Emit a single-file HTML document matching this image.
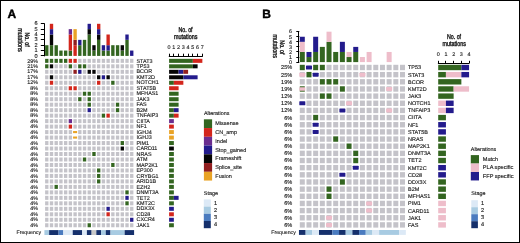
<!DOCTYPE html>
<html><head><meta charset="utf-8"><title>Oncoprint</title><style>html,body{margin:0;padding:0;background:#fff;width:520px;height:243px;overflow:hidden}svg{display:block;will-change:transform;text-rendering:geometricPrecision;font-family:"Liberation Sans",sans-serif}</style></head><body>
<svg width="520" height="243" viewBox="0 0 520 243" font-family="Liberation Sans, sans-serif"><style>text{stroke:#1a1a1a;stroke-width:0.13px}</style><rect width="520" height="243" fill="#fff"/><text x="7.50" y="17.90" font-size="12.0" text-anchor="start" font-weight="bold" fill="#000" style="stroke:#000;stroke-width:0.4px">A</text>
<text transform="translate(18.1,39.9) rotate(90) scale(1,1.3)" style="stroke-width:0.28px" font-size="5.4" text-anchor="middle" fill="#1a1a1a">mutations</text>
<text transform="translate(24.5,39.6) rotate(90) scale(1,1.3)" style="stroke-width:0.28px" font-size="5.3" text-anchor="middle" fill="#1a1a1a">No. of</text>
<line x1="44.50" y1="23.40" x2="44.50" y2="56.30" stroke="#000" stroke-width="1.0"/>
<line x1="40.80" y1="55.50" x2="44.60" y2="55.50" stroke="#000" stroke-width="1.0"/>
<text x="37.60" y="57.50" font-size="5.6" text-anchor="end" fill="#1a1a1a">0</text>
<line x1="40.80" y1="50.50" x2="44.60" y2="50.50" stroke="#000" stroke-width="1.0"/>
<text x="37.60" y="52.15" font-size="5.6" text-anchor="end" fill="#1a1a1a">1</text>
<line x1="40.80" y1="45.50" x2="44.60" y2="45.50" stroke="#000" stroke-width="1.0"/>
<text x="37.60" y="46.80" font-size="5.6" text-anchor="end" fill="#1a1a1a">2</text>
<line x1="40.80" y1="39.50" x2="44.60" y2="39.50" stroke="#000" stroke-width="1.0"/>
<text x="37.60" y="41.45" font-size="5.6" text-anchor="end" fill="#1a1a1a">3</text>
<line x1="40.80" y1="34.50" x2="44.60" y2="34.50" stroke="#000" stroke-width="1.0"/>
<text x="37.60" y="36.10" font-size="5.6" text-anchor="end" fill="#1a1a1a">4</text>
<line x1="40.80" y1="29.50" x2="44.60" y2="29.50" stroke="#000" stroke-width="1.0"/>
<text x="37.60" y="30.75" font-size="5.6" text-anchor="end" fill="#1a1a1a">5</text>
<line x1="40.80" y1="23.50" x2="44.60" y2="23.50" stroke="#000" stroke-width="1.0"/>
<text x="37.60" y="25.40" font-size="5.6" text-anchor="end" fill="#1a1a1a">6</text>
<rect x="45.10" y="45.20" width="3.35" height="10.70" fill="#336520"/>
<rect x="49.82" y="45.20" width="3.35" height="10.70" fill="#336520"/>
<rect x="49.82" y="34.50" width="3.35" height="10.70" fill="#050505"/>
<rect x="49.82" y="29.15" width="3.35" height="5.35" fill="#231b8c"/>
<rect x="49.82" y="23.80" width="3.35" height="5.35" fill="#d3261c"/>
<rect x="54.54" y="45.20" width="3.35" height="10.70" fill="#336520"/>
<rect x="59.26" y="50.55" width="3.35" height="5.35" fill="#336520"/>
<rect x="63.98" y="50.55" width="3.35" height="5.35" fill="#336520"/>
<rect x="68.70" y="50.55" width="3.35" height="5.35" fill="#336520"/>
<rect x="68.70" y="34.50" width="3.35" height="16.05" fill="#d3261c"/>
<rect x="68.70" y="29.15" width="3.35" height="5.35" fill="#6a2d8f"/>
<rect x="73.42" y="45.20" width="3.35" height="10.70" fill="#d3261c"/>
<rect x="73.42" y="39.85" width="3.35" height="5.35" fill="#911e1f"/>
<rect x="73.42" y="29.15" width="3.35" height="10.70" fill="#e9a325"/>
<rect x="78.14" y="45.20" width="3.35" height="10.70" fill="#336520"/>
<rect x="78.14" y="39.85" width="3.35" height="5.35" fill="#231b8c"/>
<rect x="82.86" y="39.85" width="3.35" height="16.05" fill="#336520"/>
<rect x="87.58" y="34.50" width="3.35" height="21.40" fill="#336520"/>
<rect x="87.58" y="29.15" width="3.35" height="5.35" fill="#050505"/>
<rect x="87.58" y="23.80" width="3.35" height="5.35" fill="#231b8c"/>
<rect x="92.30" y="50.55" width="3.35" height="5.35" fill="#336520"/>
<rect x="92.30" y="45.20" width="3.35" height="5.35" fill="#050505"/>
<rect x="97.02" y="39.85" width="3.35" height="16.05" fill="#336520"/>
<rect x="97.02" y="34.50" width="3.35" height="5.35" fill="#050505"/>
<rect x="97.02" y="29.15" width="3.35" height="5.35" fill="#231b8c"/>
<rect x="97.02" y="23.80" width="3.35" height="5.35" fill="#d3261c"/>
<rect x="101.74" y="50.55" width="3.35" height="5.35" fill="#336520"/>
<rect x="101.74" y="45.20" width="3.35" height="5.35" fill="#231b8c"/>
<rect x="106.46" y="50.55" width="3.35" height="5.35" fill="#336520"/>
<rect x="106.46" y="45.20" width="3.35" height="5.35" fill="#231b8c"/>
<rect x="106.46" y="34.50" width="3.35" height="10.70" fill="#d3261c"/>
<rect x="111.18" y="45.20" width="3.35" height="10.70" fill="#336520"/>
<rect x="115.90" y="45.20" width="3.35" height="10.70" fill="#336520"/>
<rect x="120.62" y="50.55" width="3.35" height="5.35" fill="#336520"/>
<rect x="120.62" y="45.20" width="3.35" height="5.35" fill="#050505"/>
<rect x="125.34" y="39.85" width="3.35" height="16.05" fill="#336520"/>
<rect x="125.34" y="34.50" width="3.35" height="5.35" fill="#231b8c"/>
<rect x="130.06" y="50.55" width="3.35" height="5.35" fill="#231b8c"/>
<rect x="45.10" y="58.85" width="3.35" height="4.00" fill="#336520"/>
<rect x="49.82" y="58.85" width="3.35" height="4.00" fill="#336520"/>
<rect x="54.54" y="58.85" width="3.35" height="4.00" fill="#336520"/>
<rect x="59.26" y="58.85" width="3.35" height="4.00" fill="#336520"/>
<rect x="63.98" y="58.85" width="3.35" height="4.00" fill="#336520"/>
<rect x="68.70" y="58.85" width="3.35" height="4.00" fill="#d3261c"/>
<rect x="73.42" y="58.85" width="3.35" height="4.00" fill="#d3261c"/>
<rect x="78.14" y="58.85" width="3.35" height="4.00" fill="#c4c3c9"/>
<rect x="82.86" y="58.85" width="3.35" height="4.00" fill="#c4c3c9"/>
<rect x="87.58" y="58.85" width="3.35" height="4.00" fill="#c4c3c9"/>
<rect x="92.30" y="58.85" width="3.35" height="4.00" fill="#c4c3c9"/>
<rect x="97.02" y="58.85" width="3.35" height="4.00" fill="#c4c3c9"/>
<rect x="101.74" y="58.85" width="3.35" height="4.00" fill="#c4c3c9"/>
<rect x="106.46" y="58.85" width="3.35" height="4.00" fill="#c4c3c9"/>
<rect x="111.18" y="58.85" width="3.35" height="4.00" fill="#c4c3c9"/>
<rect x="115.90" y="58.85" width="3.35" height="4.00" fill="#c4c3c9"/>
<rect x="120.62" y="58.85" width="3.35" height="4.00" fill="#c4c3c9"/>
<rect x="125.34" y="58.85" width="3.35" height="4.00" fill="#c4c3c9"/>
<rect x="130.06" y="58.85" width="3.35" height="4.00" fill="#c4c3c9"/>
<text x="38.00" y="62.50" font-size="5.4" text-anchor="end" fill="#1a1a1a">29%</text>
<text x="136.50" y="62.50" font-size="5.4" text-anchor="start" fill="#1a1a1a">STAT3</text>
<rect x="45.10" y="64.33" width="3.35" height="4.00" fill="#336520"/>
<rect x="49.82" y="64.33" width="3.35" height="4.00" fill="#050505"/>
<rect x="54.54" y="64.33" width="3.35" height="4.00" fill="#c4c3c9"/>
<rect x="59.26" y="64.33" width="3.35" height="4.00" fill="#c4c3c9"/>
<rect x="63.98" y="64.33" width="3.35" height="4.00" fill="#c4c3c9"/>
<rect x="68.70" y="64.33" width="3.35" height="4.00" fill="#336520"/>
<rect x="73.42" y="64.33" width="3.35" height="4.00" fill="#c4c3c9"/>
<rect x="78.14" y="64.33" width="3.35" height="4.00" fill="#336520"/>
<rect x="82.86" y="64.33" width="3.35" height="4.00" fill="#336520"/>
<rect x="87.58" y="64.33" width="3.35" height="4.00" fill="#c4c3c9"/>
<rect x="92.30" y="64.33" width="3.35" height="4.00" fill="#c4c3c9"/>
<rect x="97.02" y="64.33" width="3.35" height="4.00" fill="#c4c3c9"/>
<rect x="101.74" y="64.33" width="3.35" height="4.00" fill="#c4c3c9"/>
<rect x="106.46" y="64.33" width="3.35" height="4.00" fill="#c4c3c9"/>
<rect x="111.18" y="64.33" width="3.35" height="4.00" fill="#c4c3c9"/>
<rect x="115.90" y="64.33" width="3.35" height="4.00" fill="#c4c3c9"/>
<rect x="120.62" y="64.33" width="3.35" height="4.00" fill="#c4c3c9"/>
<rect x="125.34" y="64.33" width="3.35" height="4.00" fill="#c4c3c9"/>
<rect x="130.06" y="64.33" width="3.35" height="4.00" fill="#c4c3c9"/>
<text x="38.00" y="67.98" font-size="5.4" text-anchor="end" fill="#1a1a1a">21%</text>
<text x="136.50" y="67.98" font-size="5.4" text-anchor="start" fill="#1a1a1a">TP53</text>
<rect x="45.10" y="69.81" width="3.35" height="4.00" fill="#c4c3c9"/>
<rect x="49.82" y="69.81" width="3.35" height="4.00" fill="#c4c3c9"/>
<rect x="54.54" y="69.81" width="3.35" height="4.00" fill="#c4c3c9"/>
<rect x="59.26" y="69.81" width="3.35" height="4.00" fill="#c4c3c9"/>
<rect x="63.98" y="69.81" width="3.35" height="4.00" fill="#c4c3c9"/>
<rect x="68.70" y="69.81" width="3.35" height="4.00" fill="#c4c3c9"/>
<rect x="73.42" y="69.81" width="3.35" height="4.00" fill="#911e1f"/>
<rect x="78.14" y="69.81" width="3.35" height="4.00" fill="#231b8c"/>
<rect x="82.86" y="69.81" width="3.35" height="4.00" fill="#c4c3c9"/>
<rect x="87.58" y="69.81" width="3.35" height="4.00" fill="#050505"/>
<rect x="92.30" y="69.81" width="3.35" height="4.00" fill="#050505"/>
<rect x="97.02" y="69.81" width="3.35" height="4.00" fill="#c4c3c9"/>
<rect x="101.74" y="69.81" width="3.35" height="4.00" fill="#c4c3c9"/>
<rect x="106.46" y="69.81" width="3.35" height="4.00" fill="#c4c3c9"/>
<rect x="111.18" y="69.81" width="3.35" height="4.00" fill="#c4c3c9"/>
<rect x="115.90" y="69.81" width="3.35" height="4.00" fill="#c4c3c9"/>
<rect x="120.62" y="69.81" width="3.35" height="4.00" fill="#c4c3c9"/>
<rect x="125.34" y="69.81" width="3.35" height="4.00" fill="#c4c3c9"/>
<rect x="130.06" y="69.81" width="3.35" height="4.00" fill="#c4c3c9"/>
<text x="38.00" y="73.46" font-size="5.4" text-anchor="end" fill="#1a1a1a">17%</text>
<text x="136.50" y="73.46" font-size="5.4" text-anchor="start" fill="#1a1a1a">BCOR</text>
<rect x="45.10" y="75.29" width="3.35" height="4.00" fill="#c4c3c9"/>
<rect x="49.82" y="75.29" width="3.35" height="4.00" fill="#050505"/>
<rect x="54.54" y="75.29" width="3.35" height="4.00" fill="#c4c3c9"/>
<rect x="59.26" y="75.29" width="3.35" height="4.00" fill="#c4c3c9"/>
<rect x="63.98" y="75.29" width="3.35" height="4.00" fill="#c4c3c9"/>
<rect x="68.70" y="75.29" width="3.35" height="4.00" fill="#c4c3c9"/>
<rect x="73.42" y="75.29" width="3.35" height="4.00" fill="#c4c3c9"/>
<rect x="78.14" y="75.29" width="3.35" height="4.00" fill="#c4c3c9"/>
<rect x="82.86" y="75.29" width="3.35" height="4.00" fill="#c4c3c9"/>
<rect x="87.58" y="75.29" width="3.35" height="4.00" fill="#c4c3c9"/>
<rect x="92.30" y="75.29" width="3.35" height="4.00" fill="#c4c3c9"/>
<rect x="97.02" y="75.29" width="3.35" height="4.00" fill="#050505"/>
<rect x="101.74" y="75.29" width="3.35" height="4.00" fill="#231b8c"/>
<rect x="106.46" y="75.29" width="3.35" height="4.00" fill="#050505"/>
<rect x="111.18" y="75.29" width="3.35" height="4.00" fill="#c4c3c9"/>
<rect x="115.90" y="75.29" width="3.35" height="4.00" fill="#c4c3c9"/>
<rect x="120.62" y="75.29" width="3.35" height="4.00" fill="#c4c3c9"/>
<rect x="125.34" y="75.29" width="3.35" height="4.00" fill="#c4c3c9"/>
<rect x="130.06" y="75.29" width="3.35" height="4.00" fill="#c4c3c9"/>
<text x="38.00" y="78.94" font-size="5.4" text-anchor="end" fill="#1a1a1a">17%</text>
<text x="136.50" y="78.94" font-size="5.4" text-anchor="start" fill="#1a1a1a">KMT2D</text>
<rect x="45.10" y="80.77" width="3.35" height="4.00" fill="#c4c3c9"/>
<rect x="49.82" y="80.77" width="3.35" height="4.00" fill="#d3261c"/>
<rect x="54.54" y="80.77" width="3.35" height="4.00" fill="#c4c3c9"/>
<rect x="59.26" y="80.77" width="3.35" height="4.00" fill="#c4c3c9"/>
<rect x="63.98" y="80.77" width="3.35" height="4.00" fill="#c4c3c9"/>
<rect x="68.70" y="80.77" width="3.35" height="4.00" fill="#c4c3c9"/>
<rect x="73.42" y="80.77" width="3.35" height="4.00" fill="#c4c3c9"/>
<rect x="78.14" y="80.77" width="3.35" height="4.00" fill="#c4c3c9"/>
<rect x="82.86" y="80.77" width="3.35" height="4.00" fill="#c4c3c9"/>
<rect x="87.58" y="80.77" width="3.35" height="4.00" fill="#c4c3c9"/>
<rect x="92.30" y="80.77" width="3.35" height="4.00" fill="#c4c3c9"/>
<rect x="97.02" y="80.77" width="3.35" height="4.00" fill="#d3261c"/>
<rect x="101.74" y="80.77" width="3.35" height="4.00" fill="#c4c3c9"/>
<rect x="106.46" y="80.77" width="3.35" height="4.00" fill="#c4c3c9"/>
<rect x="111.18" y="80.77" width="3.35" height="4.00" fill="#336520"/>
<rect x="115.90" y="80.77" width="3.35" height="4.00" fill="#c4c3c9"/>
<rect x="120.62" y="80.77" width="3.35" height="4.00" fill="#c4c3c9"/>
<rect x="125.34" y="80.77" width="3.35" height="4.00" fill="#c4c3c9"/>
<rect x="130.06" y="80.77" width="3.35" height="4.00" fill="#c4c3c9"/>
<text x="38.00" y="84.42" font-size="5.4" text-anchor="end" fill="#1a1a1a">12%</text>
<text x="136.50" y="84.42" font-size="5.4" text-anchor="start" fill="#1a1a1a">NOTCH1</text>
<rect x="45.10" y="86.25" width="3.35" height="4.00" fill="#c4c3c9"/>
<rect x="49.82" y="86.25" width="3.35" height="4.00" fill="#c4c3c9"/>
<rect x="54.54" y="86.25" width="3.35" height="4.00" fill="#c4c3c9"/>
<rect x="59.26" y="86.25" width="3.35" height="4.00" fill="#c4c3c9"/>
<rect x="63.98" y="86.25" width="3.35" height="4.00" fill="#c4c3c9"/>
<rect x="68.70" y="86.25" width="3.35" height="4.00" fill="#d3261c"/>
<rect x="73.42" y="86.25" width="3.35" height="4.00" fill="#d3261c"/>
<rect x="78.14" y="86.25" width="3.35" height="4.00" fill="#c4c3c9"/>
<rect x="82.86" y="86.25" width="3.35" height="4.00" fill="#c4c3c9"/>
<rect x="87.58" y="86.25" width="3.35" height="4.00" fill="#c4c3c9"/>
<rect x="92.30" y="86.25" width="3.35" height="4.00" fill="#c4c3c9"/>
<rect x="97.02" y="86.25" width="3.35" height="4.00" fill="#c4c3c9"/>
<rect x="101.74" y="86.25" width="3.35" height="4.00" fill="#c4c3c9"/>
<rect x="106.46" y="86.25" width="3.35" height="4.00" fill="#c4c3c9"/>
<rect x="111.18" y="86.25" width="3.35" height="4.00" fill="#c4c3c9"/>
<rect x="115.90" y="86.25" width="3.35" height="4.00" fill="#c4c3c9"/>
<rect x="120.62" y="86.25" width="3.35" height="4.00" fill="#c4c3c9"/>
<rect x="125.34" y="86.25" width="3.35" height="4.00" fill="#c4c3c9"/>
<rect x="130.06" y="86.25" width="3.35" height="4.00" fill="#c4c3c9"/>
<text x="38.00" y="89.90" font-size="5.4" text-anchor="end" fill="#1a1a1a">8%</text>
<text x="136.50" y="89.90" font-size="5.4" text-anchor="start" fill="#1a1a1a">STAT5B</text>
<rect x="45.10" y="91.73" width="3.35" height="4.00" fill="#c4c3c9"/>
<rect x="49.82" y="91.73" width="3.35" height="4.00" fill="#c4c3c9"/>
<rect x="54.54" y="91.73" width="3.35" height="4.00" fill="#c4c3c9"/>
<rect x="59.26" y="91.73" width="3.35" height="4.00" fill="#c4c3c9"/>
<rect x="63.98" y="91.73" width="3.35" height="4.00" fill="#c4c3c9"/>
<rect x="68.70" y="91.73" width="3.35" height="4.00" fill="#c4c3c9"/>
<rect x="73.42" y="91.73" width="3.35" height="4.00" fill="#c4c3c9"/>
<rect x="78.14" y="91.73" width="3.35" height="4.00" fill="#c4c3c9"/>
<rect x="82.86" y="91.73" width="3.35" height="4.00" fill="#336520"/>
<rect x="87.58" y="91.73" width="3.35" height="4.00" fill="#336520"/>
<rect x="92.30" y="91.73" width="3.35" height="4.00" fill="#c4c3c9"/>
<rect x="97.02" y="91.73" width="3.35" height="4.00" fill="#c4c3c9"/>
<rect x="101.74" y="91.73" width="3.35" height="4.00" fill="#c4c3c9"/>
<rect x="106.46" y="91.73" width="3.35" height="4.00" fill="#c4c3c9"/>
<rect x="111.18" y="91.73" width="3.35" height="4.00" fill="#c4c3c9"/>
<rect x="115.90" y="91.73" width="3.35" height="4.00" fill="#c4c3c9"/>
<rect x="120.62" y="91.73" width="3.35" height="4.00" fill="#c4c3c9"/>
<rect x="125.34" y="91.73" width="3.35" height="4.00" fill="#c4c3c9"/>
<rect x="130.06" y="91.73" width="3.35" height="4.00" fill="#c4c3c9"/>
<text x="38.00" y="95.38" font-size="5.4" text-anchor="end" fill="#1a1a1a">8%</text>
<text x="136.50" y="95.38" font-size="5.4" text-anchor="start" fill="#1a1a1a">MFHAS1</text>
<rect x="45.10" y="97.21" width="3.35" height="4.00" fill="#c4c3c9"/>
<rect x="49.82" y="97.21" width="3.35" height="4.00" fill="#c4c3c9"/>
<rect x="54.54" y="97.21" width="3.35" height="4.00" fill="#c4c3c9"/>
<rect x="59.26" y="97.21" width="3.35" height="4.00" fill="#c4c3c9"/>
<rect x="63.98" y="97.21" width="3.35" height="4.00" fill="#c4c3c9"/>
<rect x="68.70" y="97.21" width="3.35" height="4.00" fill="#c4c3c9"/>
<rect x="73.42" y="97.21" width="3.35" height="4.00" fill="#c4c3c9"/>
<rect x="78.14" y="97.21" width="3.35" height="4.00" fill="#336520"/>
<rect x="82.86" y="97.21" width="3.35" height="4.00" fill="#c4c3c9"/>
<rect x="87.58" y="97.21" width="3.35" height="4.00" fill="#336520"/>
<rect x="92.30" y="97.21" width="3.35" height="4.00" fill="#c4c3c9"/>
<rect x="97.02" y="97.21" width="3.35" height="4.00" fill="#c4c3c9"/>
<rect x="101.74" y="97.21" width="3.35" height="4.00" fill="#c4c3c9"/>
<rect x="106.46" y="97.21" width="3.35" height="4.00" fill="#c4c3c9"/>
<rect x="111.18" y="97.21" width="3.35" height="4.00" fill="#c4c3c9"/>
<rect x="115.90" y="97.21" width="3.35" height="4.00" fill="#c4c3c9"/>
<rect x="120.62" y="97.21" width="3.35" height="4.00" fill="#c4c3c9"/>
<rect x="125.34" y="97.21" width="3.35" height="4.00" fill="#c4c3c9"/>
<rect x="130.06" y="97.21" width="3.35" height="4.00" fill="#c4c3c9"/>
<text x="38.00" y="100.86" font-size="5.4" text-anchor="end" fill="#1a1a1a">8%</text>
<text x="136.50" y="100.86" font-size="5.4" text-anchor="start" fill="#1a1a1a">JAK3</text>
<rect x="45.10" y="102.69" width="3.35" height="4.00" fill="#c4c3c9"/>
<rect x="49.82" y="102.69" width="3.35" height="4.00" fill="#c4c3c9"/>
<rect x="54.54" y="102.69" width="3.35" height="4.00" fill="#c4c3c9"/>
<rect x="59.26" y="102.69" width="3.35" height="4.00" fill="#c4c3c9"/>
<rect x="63.98" y="102.69" width="3.35" height="4.00" fill="#c4c3c9"/>
<rect x="68.70" y="102.69" width="3.35" height="4.00" fill="#c4c3c9"/>
<rect x="73.42" y="102.69" width="3.35" height="4.00" fill="#c4c3c9"/>
<rect x="78.14" y="102.69" width="3.35" height="4.00" fill="#c4c3c9"/>
<rect x="82.86" y="102.69" width="3.35" height="4.00" fill="#c4c3c9"/>
<rect x="87.58" y="102.69" width="3.35" height="4.00" fill="#336520"/>
<rect x="92.30" y="102.69" width="3.35" height="4.00" fill="#c4c3c9"/>
<rect x="97.02" y="102.69" width="3.35" height="4.00" fill="#c4c3c9"/>
<rect x="101.74" y="102.69" width="3.35" height="4.00" fill="#c4c3c9"/>
<rect x="106.46" y="102.69" width="3.35" height="4.00" fill="#c4c3c9"/>
<rect x="111.18" y="102.69" width="3.35" height="4.00" fill="#c4c3c9"/>
<rect x="115.90" y="102.69" width="3.35" height="4.00" fill="#336520"/>
<rect x="120.62" y="102.69" width="3.35" height="4.00" fill="#c4c3c9"/>
<rect x="125.34" y="102.69" width="3.35" height="4.00" fill="#c4c3c9"/>
<rect x="130.06" y="102.69" width="3.35" height="4.00" fill="#c4c3c9"/>
<text x="38.00" y="106.34" font-size="5.4" text-anchor="end" fill="#1a1a1a">8%</text>
<text x="136.50" y="106.34" font-size="5.4" text-anchor="start" fill="#1a1a1a">FAS</text>
<rect x="45.10" y="108.17" width="3.35" height="4.00" fill="#c4c3c9"/>
<rect x="49.82" y="108.17" width="3.35" height="4.00" fill="#c4c3c9"/>
<rect x="54.54" y="108.17" width="3.35" height="4.00" fill="#c4c3c9"/>
<rect x="59.26" y="108.17" width="3.35" height="4.00" fill="#c4c3c9"/>
<rect x="63.98" y="108.17" width="3.35" height="4.00" fill="#c4c3c9"/>
<rect x="68.70" y="108.17" width="3.35" height="4.00" fill="#c4c3c9"/>
<rect x="73.42" y="108.17" width="3.35" height="4.00" fill="#c4c3c9"/>
<rect x="78.14" y="108.17" width="3.35" height="4.00" fill="#c4c3c9"/>
<rect x="82.86" y="108.17" width="3.35" height="4.00" fill="#c4c3c9"/>
<rect x="87.58" y="108.17" width="3.35" height="4.00" fill="#231b8c"/>
<rect x="92.30" y="108.17" width="3.35" height="4.00" fill="#c4c3c9"/>
<rect x="97.02" y="108.17" width="3.35" height="4.00" fill="#c4c3c9"/>
<rect x="101.74" y="108.17" width="3.35" height="4.00" fill="#c4c3c9"/>
<rect x="106.46" y="108.17" width="3.35" height="4.00" fill="#c4c3c9"/>
<rect x="111.18" y="108.17" width="3.35" height="4.00" fill="#c4c3c9"/>
<rect x="115.90" y="108.17" width="3.35" height="4.00" fill="#336520"/>
<rect x="120.62" y="108.17" width="3.35" height="4.00" fill="#c4c3c9"/>
<rect x="125.34" y="108.17" width="3.35" height="4.00" fill="#c4c3c9"/>
<rect x="130.06" y="108.17" width="3.35" height="4.00" fill="#c4c3c9"/>
<text x="38.00" y="111.82" font-size="5.4" text-anchor="end" fill="#1a1a1a">8%</text>
<text x="136.50" y="111.82" font-size="5.4" text-anchor="start" fill="#1a1a1a">B2M</text>
<rect x="45.10" y="113.65" width="3.35" height="4.00" fill="#c4c3c9"/>
<rect x="49.82" y="113.65" width="3.35" height="4.00" fill="#c4c3c9"/>
<rect x="54.54" y="113.65" width="3.35" height="4.00" fill="#c4c3c9"/>
<rect x="59.26" y="113.65" width="3.35" height="4.00" fill="#c4c3c9"/>
<rect x="63.98" y="113.65" width="3.35" height="4.00" fill="#c4c3c9"/>
<rect x="68.70" y="113.65" width="3.35" height="4.00" fill="#c4c3c9"/>
<rect x="73.42" y="113.65" width="3.35" height="4.00" fill="#c4c3c9"/>
<rect x="78.14" y="113.65" width="3.35" height="4.00" fill="#c4c3c9"/>
<rect x="82.86" y="113.65" width="3.35" height="4.00" fill="#c4c3c9"/>
<rect x="87.58" y="113.65" width="3.35" height="4.00" fill="#c4c3c9"/>
<rect x="92.30" y="113.65" width="3.35" height="4.00" fill="#c4c3c9"/>
<rect x="97.02" y="113.65" width="3.35" height="4.00" fill="#c4c3c9"/>
<rect x="101.74" y="113.65" width="3.35" height="4.00" fill="#336520"/>
<rect x="106.46" y="113.65" width="3.35" height="4.00" fill="#d3261c"/>
<rect x="111.18" y="113.65" width="3.35" height="4.00" fill="#c4c3c9"/>
<rect x="115.90" y="113.65" width="3.35" height="4.00" fill="#c4c3c9"/>
<rect x="120.62" y="113.65" width="3.35" height="4.00" fill="#c4c3c9"/>
<rect x="125.34" y="113.65" width="3.35" height="4.00" fill="#c4c3c9"/>
<rect x="130.06" y="113.65" width="3.35" height="4.00" fill="#c4c3c9"/>
<text x="38.00" y="117.30" font-size="5.4" text-anchor="end" fill="#1a1a1a">8%</text>
<text x="136.50" y="117.30" font-size="5.4" text-anchor="start" fill="#1a1a1a">TNFAIP3</text>
<rect x="45.10" y="119.13" width="3.35" height="4.00" fill="#c4c3c9"/>
<rect x="49.82" y="119.13" width="3.35" height="4.00" fill="#c4c3c9"/>
<rect x="54.54" y="119.13" width="3.35" height="4.00" fill="#c4c3c9"/>
<rect x="59.26" y="119.13" width="3.35" height="4.00" fill="#c4c3c9"/>
<rect x="63.98" y="119.13" width="3.35" height="4.00" fill="#c4c3c9"/>
<rect x="68.70" y="119.13" width="3.35" height="4.00" fill="#6a2d8f"/>
<rect x="73.42" y="119.13" width="3.35" height="4.00" fill="#c4c3c9"/>
<rect x="78.14" y="119.13" width="3.35" height="4.00" fill="#c4c3c9"/>
<rect x="82.86" y="119.13" width="3.35" height="4.00" fill="#c4c3c9"/>
<rect x="87.58" y="119.13" width="3.35" height="4.00" fill="#c4c3c9"/>
<rect x="92.30" y="119.13" width="3.35" height="4.00" fill="#c4c3c9"/>
<rect x="97.02" y="119.13" width="3.35" height="4.00" fill="#c4c3c9"/>
<rect x="101.74" y="119.13" width="3.35" height="4.00" fill="#c4c3c9"/>
<rect x="106.46" y="119.13" width="3.35" height="4.00" fill="#c4c3c9"/>
<rect x="111.18" y="119.13" width="3.35" height="4.00" fill="#c4c3c9"/>
<rect x="115.90" y="119.13" width="3.35" height="4.00" fill="#c4c3c9"/>
<rect x="120.62" y="119.13" width="3.35" height="4.00" fill="#c4c3c9"/>
<rect x="125.34" y="119.13" width="3.35" height="4.00" fill="#c4c3c9"/>
<rect x="130.06" y="119.13" width="3.35" height="4.00" fill="#c4c3c9"/>
<text x="38.00" y="122.78" font-size="5.4" text-anchor="end" fill="#1a1a1a">4%</text>
<text x="136.50" y="122.78" font-size="5.4" text-anchor="start" fill="#1a1a1a">CIITA</text>
<rect x="45.10" y="124.61" width="3.35" height="4.00" fill="#c4c3c9"/>
<rect x="49.82" y="124.61" width="3.35" height="4.00" fill="#c4c3c9"/>
<rect x="54.54" y="124.61" width="3.35" height="4.00" fill="#c4c3c9"/>
<rect x="59.26" y="124.61" width="3.35" height="4.00" fill="#c4c3c9"/>
<rect x="63.98" y="124.61" width="3.35" height="4.00" fill="#c4c3c9"/>
<rect x="68.70" y="124.61" width="3.35" height="4.00" fill="#d3261c"/>
<rect x="73.42" y="124.61" width="3.35" height="4.00" fill="#c4c3c9"/>
<rect x="78.14" y="124.61" width="3.35" height="4.00" fill="#c4c3c9"/>
<rect x="82.86" y="124.61" width="3.35" height="4.00" fill="#c4c3c9"/>
<rect x="87.58" y="124.61" width="3.35" height="4.00" fill="#c4c3c9"/>
<rect x="92.30" y="124.61" width="3.35" height="4.00" fill="#c4c3c9"/>
<rect x="97.02" y="124.61" width="3.35" height="4.00" fill="#c4c3c9"/>
<rect x="101.74" y="124.61" width="3.35" height="4.00" fill="#c4c3c9"/>
<rect x="106.46" y="124.61" width="3.35" height="4.00" fill="#c4c3c9"/>
<rect x="111.18" y="124.61" width="3.35" height="4.00" fill="#c4c3c9"/>
<rect x="115.90" y="124.61" width="3.35" height="4.00" fill="#c4c3c9"/>
<rect x="120.62" y="124.61" width="3.35" height="4.00" fill="#c4c3c9"/>
<rect x="125.34" y="124.61" width="3.35" height="4.00" fill="#c4c3c9"/>
<rect x="130.06" y="124.61" width="3.35" height="4.00" fill="#c4c3c9"/>
<text x="38.00" y="128.26" font-size="5.4" text-anchor="end" fill="#1a1a1a">4%</text>
<text x="136.50" y="128.26" font-size="5.4" text-anchor="start" fill="#1a1a1a">NF1</text>
<rect x="45.10" y="130.09" width="3.35" height="4.00" fill="#c4c3c9"/>
<rect x="49.82" y="130.09" width="3.35" height="4.00" fill="#c4c3c9"/>
<rect x="54.54" y="130.09" width="3.35" height="4.00" fill="#c4c3c9"/>
<rect x="59.26" y="130.09" width="3.35" height="4.00" fill="#c4c3c9"/>
<rect x="63.98" y="130.09" width="3.35" height="4.00" fill="#c4c3c9"/>
<rect x="68.70" y="130.09" width="3.35" height="4.00" fill="#c4c3c9"/>
<rect x="73.07" y="131.04" width="4.05" height="2.10" fill="#e9a325"/>
<rect x="78.14" y="130.09" width="3.35" height="4.00" fill="#c4c3c9"/>
<rect x="82.86" y="130.09" width="3.35" height="4.00" fill="#c4c3c9"/>
<rect x="87.58" y="130.09" width="3.35" height="4.00" fill="#c4c3c9"/>
<rect x="92.30" y="130.09" width="3.35" height="4.00" fill="#c4c3c9"/>
<rect x="97.02" y="130.09" width="3.35" height="4.00" fill="#c4c3c9"/>
<rect x="101.74" y="130.09" width="3.35" height="4.00" fill="#c4c3c9"/>
<rect x="106.46" y="130.09" width="3.35" height="4.00" fill="#c4c3c9"/>
<rect x="111.18" y="130.09" width="3.35" height="4.00" fill="#c4c3c9"/>
<rect x="115.90" y="130.09" width="3.35" height="4.00" fill="#c4c3c9"/>
<rect x="120.62" y="130.09" width="3.35" height="4.00" fill="#c4c3c9"/>
<rect x="125.34" y="130.09" width="3.35" height="4.00" fill="#c4c3c9"/>
<rect x="130.06" y="130.09" width="3.35" height="4.00" fill="#c4c3c9"/>
<text x="38.00" y="133.74" font-size="5.4" text-anchor="end" fill="#1a1a1a">4%</text>
<text x="136.50" y="133.74" font-size="5.4" text-anchor="start" fill="#1a1a1a">IGHJ4</text>
<rect x="45.10" y="135.57" width="3.35" height="4.00" fill="#c4c3c9"/>
<rect x="49.82" y="135.57" width="3.35" height="4.00" fill="#c4c3c9"/>
<rect x="54.54" y="135.57" width="3.35" height="4.00" fill="#c4c3c9"/>
<rect x="59.26" y="135.57" width="3.35" height="4.00" fill="#c4c3c9"/>
<rect x="63.98" y="135.57" width="3.35" height="4.00" fill="#c4c3c9"/>
<rect x="68.70" y="135.57" width="3.35" height="4.00" fill="#c4c3c9"/>
<rect x="73.07" y="136.52" width="4.05" height="2.10" fill="#e9a325"/>
<rect x="78.14" y="135.57" width="3.35" height="4.00" fill="#c4c3c9"/>
<rect x="82.86" y="135.57" width="3.35" height="4.00" fill="#c4c3c9"/>
<rect x="87.58" y="135.57" width="3.35" height="4.00" fill="#c4c3c9"/>
<rect x="92.30" y="135.57" width="3.35" height="4.00" fill="#c4c3c9"/>
<rect x="97.02" y="135.57" width="3.35" height="4.00" fill="#c4c3c9"/>
<rect x="101.74" y="135.57" width="3.35" height="4.00" fill="#c4c3c9"/>
<rect x="106.46" y="135.57" width="3.35" height="4.00" fill="#c4c3c9"/>
<rect x="111.18" y="135.57" width="3.35" height="4.00" fill="#c4c3c9"/>
<rect x="115.90" y="135.57" width="3.35" height="4.00" fill="#c4c3c9"/>
<rect x="120.62" y="135.57" width="3.35" height="4.00" fill="#c4c3c9"/>
<rect x="125.34" y="135.57" width="3.35" height="4.00" fill="#c4c3c9"/>
<rect x="130.06" y="135.57" width="3.35" height="4.00" fill="#c4c3c9"/>
<text x="38.00" y="139.22" font-size="5.4" text-anchor="end" fill="#1a1a1a">4%</text>
<text x="136.50" y="139.22" font-size="5.4" text-anchor="start" fill="#1a1a1a">IGHJ3</text>
<rect x="45.10" y="141.05" width="3.35" height="4.00" fill="#c4c3c9"/>
<rect x="49.82" y="141.05" width="3.35" height="4.00" fill="#c4c3c9"/>
<rect x="54.54" y="141.05" width="3.35" height="4.00" fill="#c4c3c9"/>
<rect x="59.26" y="141.05" width="3.35" height="4.00" fill="#c4c3c9"/>
<rect x="63.98" y="141.05" width="3.35" height="4.00" fill="#c4c3c9"/>
<rect x="68.70" y="141.05" width="3.35" height="4.00" fill="#c4c3c9"/>
<rect x="73.42" y="141.05" width="3.35" height="4.00" fill="#c4c3c9"/>
<rect x="78.14" y="141.05" width="3.35" height="4.00" fill="#c4c3c9"/>
<rect x="82.86" y="141.05" width="3.35" height="4.00" fill="#c4c3c9"/>
<rect x="87.58" y="141.05" width="3.35" height="4.00" fill="#c4c3c9"/>
<rect x="92.30" y="141.05" width="3.35" height="4.00" fill="#c4c3c9"/>
<rect x="97.02" y="141.05" width="3.35" height="4.00" fill="#c4c3c9"/>
<rect x="101.74" y="141.05" width="3.35" height="4.00" fill="#c4c3c9"/>
<rect x="106.46" y="141.05" width="3.35" height="4.00" fill="#c4c3c9"/>
<rect x="111.18" y="141.05" width="3.35" height="4.00" fill="#c4c3c9"/>
<rect x="115.90" y="141.05" width="3.35" height="4.00" fill="#c4c3c9"/>
<rect x="120.62" y="141.05" width="3.35" height="4.00" fill="#336520"/>
<rect x="125.34" y="141.05" width="3.35" height="4.00" fill="#c4c3c9"/>
<rect x="130.06" y="141.05" width="3.35" height="4.00" fill="#c4c3c9"/>
<text x="38.00" y="144.70" font-size="5.4" text-anchor="end" fill="#1a1a1a">4%</text>
<text x="136.50" y="144.70" font-size="5.4" text-anchor="start" fill="#1a1a1a">PIM1</text>
<rect x="45.10" y="146.53" width="3.35" height="4.00" fill="#c4c3c9"/>
<rect x="49.82" y="146.53" width="3.35" height="4.00" fill="#c4c3c9"/>
<rect x="54.54" y="146.53" width="3.35" height="4.00" fill="#c4c3c9"/>
<rect x="59.26" y="146.53" width="3.35" height="4.00" fill="#c4c3c9"/>
<rect x="63.98" y="146.53" width="3.35" height="4.00" fill="#c4c3c9"/>
<rect x="68.70" y="146.53" width="3.35" height="4.00" fill="#c4c3c9"/>
<rect x="73.42" y="146.53" width="3.35" height="4.00" fill="#c4c3c9"/>
<rect x="78.14" y="146.53" width="3.35" height="4.00" fill="#c4c3c9"/>
<rect x="82.86" y="146.53" width="3.35" height="4.00" fill="#c4c3c9"/>
<rect x="87.58" y="146.53" width="3.35" height="4.00" fill="#c4c3c9"/>
<rect x="92.30" y="146.53" width="3.35" height="4.00" fill="#c4c3c9"/>
<rect x="97.02" y="146.53" width="3.35" height="4.00" fill="#c4c3c9"/>
<rect x="101.74" y="146.53" width="3.35" height="4.00" fill="#c4c3c9"/>
<rect x="106.46" y="146.53" width="3.35" height="4.00" fill="#c4c3c9"/>
<rect x="111.18" y="146.53" width="3.35" height="4.00" fill="#c4c3c9"/>
<rect x="115.90" y="146.53" width="3.35" height="4.00" fill="#c4c3c9"/>
<rect x="120.62" y="146.53" width="3.35" height="4.00" fill="#050505"/>
<rect x="125.34" y="146.53" width="3.35" height="4.00" fill="#c4c3c9"/>
<rect x="130.06" y="146.53" width="3.35" height="4.00" fill="#c4c3c9"/>
<text x="38.00" y="150.18" font-size="5.4" text-anchor="end" fill="#1a1a1a">4%</text>
<text x="136.50" y="150.18" font-size="5.4" text-anchor="start" fill="#1a1a1a">CARD11</text>
<rect x="45.10" y="152.01" width="3.35" height="4.00" fill="#c4c3c9"/>
<rect x="49.82" y="152.01" width="3.35" height="4.00" fill="#c4c3c9"/>
<rect x="54.54" y="152.01" width="3.35" height="4.00" fill="#c4c3c9"/>
<rect x="59.26" y="152.01" width="3.35" height="4.00" fill="#c4c3c9"/>
<rect x="63.98" y="152.01" width="3.35" height="4.00" fill="#c4c3c9"/>
<rect x="68.70" y="152.01" width="3.35" height="4.00" fill="#c4c3c9"/>
<rect x="73.42" y="152.01" width="3.35" height="4.00" fill="#c4c3c9"/>
<rect x="78.14" y="152.01" width="3.35" height="4.00" fill="#c4c3c9"/>
<rect x="82.86" y="152.01" width="3.35" height="4.00" fill="#c4c3c9"/>
<rect x="87.58" y="152.01" width="3.35" height="4.00" fill="#c4c3c9"/>
<rect x="92.30" y="152.01" width="3.35" height="4.00" fill="#336520"/>
<rect x="97.02" y="152.01" width="3.35" height="4.00" fill="#c4c3c9"/>
<rect x="101.74" y="152.01" width="3.35" height="4.00" fill="#c4c3c9"/>
<rect x="106.46" y="152.01" width="3.35" height="4.00" fill="#c4c3c9"/>
<rect x="111.18" y="152.01" width="3.35" height="4.00" fill="#c4c3c9"/>
<rect x="115.90" y="152.01" width="3.35" height="4.00" fill="#c4c3c9"/>
<rect x="120.62" y="152.01" width="3.35" height="4.00" fill="#c4c3c9"/>
<rect x="125.34" y="152.01" width="3.35" height="4.00" fill="#c4c3c9"/>
<rect x="130.06" y="152.01" width="3.35" height="4.00" fill="#c4c3c9"/>
<text x="38.00" y="155.66" font-size="5.4" text-anchor="end" fill="#1a1a1a">4%</text>
<text x="136.50" y="155.66" font-size="5.4" text-anchor="start" fill="#1a1a1a">NRAS</text>
<rect x="45.10" y="157.49" width="3.35" height="4.00" fill="#c4c3c9"/>
<rect x="49.82" y="157.49" width="3.35" height="4.00" fill="#c4c3c9"/>
<rect x="54.54" y="157.49" width="3.35" height="4.00" fill="#c4c3c9"/>
<rect x="59.26" y="157.49" width="3.35" height="4.00" fill="#c4c3c9"/>
<rect x="63.98" y="157.49" width="3.35" height="4.00" fill="#c4c3c9"/>
<rect x="68.70" y="157.49" width="3.35" height="4.00" fill="#c4c3c9"/>
<rect x="73.42" y="157.49" width="3.35" height="4.00" fill="#c4c3c9"/>
<rect x="78.14" y="157.49" width="3.35" height="4.00" fill="#c4c3c9"/>
<rect x="82.86" y="157.49" width="3.35" height="4.00" fill="#336520"/>
<rect x="87.58" y="157.49" width="3.35" height="4.00" fill="#c4c3c9"/>
<rect x="92.30" y="157.49" width="3.35" height="4.00" fill="#c4c3c9"/>
<rect x="97.02" y="157.49" width="3.35" height="4.00" fill="#c4c3c9"/>
<rect x="101.74" y="157.49" width="3.35" height="4.00" fill="#c4c3c9"/>
<rect x="106.46" y="157.49" width="3.35" height="4.00" fill="#c4c3c9"/>
<rect x="111.18" y="157.49" width="3.35" height="4.00" fill="#c4c3c9"/>
<rect x="115.90" y="157.49" width="3.35" height="4.00" fill="#c4c3c9"/>
<rect x="120.62" y="157.49" width="3.35" height="4.00" fill="#c4c3c9"/>
<rect x="125.34" y="157.49" width="3.35" height="4.00" fill="#c4c3c9"/>
<rect x="130.06" y="157.49" width="3.35" height="4.00" fill="#c4c3c9"/>
<text x="38.00" y="161.14" font-size="5.4" text-anchor="end" fill="#1a1a1a">4%</text>
<text x="136.50" y="161.14" font-size="5.4" text-anchor="start" fill="#1a1a1a">ATM</text>
<rect x="45.10" y="162.97" width="3.35" height="4.00" fill="#c4c3c9"/>
<rect x="49.82" y="162.97" width="3.35" height="4.00" fill="#c4c3c9"/>
<rect x="54.54" y="162.97" width="3.35" height="4.00" fill="#c4c3c9"/>
<rect x="59.26" y="162.97" width="3.35" height="4.00" fill="#c4c3c9"/>
<rect x="63.98" y="162.97" width="3.35" height="4.00" fill="#c4c3c9"/>
<rect x="68.70" y="162.97" width="3.35" height="4.00" fill="#c4c3c9"/>
<rect x="73.42" y="162.97" width="3.35" height="4.00" fill="#c4c3c9"/>
<rect x="78.14" y="162.97" width="3.35" height="4.00" fill="#c4c3c9"/>
<rect x="82.86" y="162.97" width="3.35" height="4.00" fill="#c4c3c9"/>
<rect x="87.58" y="162.97" width="3.35" height="4.00" fill="#c4c3c9"/>
<rect x="92.30" y="162.97" width="3.35" height="4.00" fill="#c4c3c9"/>
<rect x="97.02" y="162.97" width="3.35" height="4.00" fill="#c4c3c9"/>
<rect x="101.74" y="162.97" width="3.35" height="4.00" fill="#c4c3c9"/>
<rect x="106.46" y="162.97" width="3.35" height="4.00" fill="#c4c3c9"/>
<rect x="111.18" y="162.97" width="3.35" height="4.00" fill="#336520"/>
<rect x="115.90" y="162.97" width="3.35" height="4.00" fill="#c4c3c9"/>
<rect x="120.62" y="162.97" width="3.35" height="4.00" fill="#c4c3c9"/>
<rect x="125.34" y="162.97" width="3.35" height="4.00" fill="#c4c3c9"/>
<rect x="130.06" y="162.97" width="3.35" height="4.00" fill="#c4c3c9"/>
<text x="38.00" y="166.62" font-size="5.4" text-anchor="end" fill="#1a1a1a">4%</text>
<text x="136.50" y="166.62" font-size="5.4" text-anchor="start" fill="#1a1a1a">MAP2K1</text>
<rect x="45.10" y="168.45" width="3.35" height="4.00" fill="#c4c3c9"/>
<rect x="49.82" y="168.45" width="3.35" height="4.00" fill="#c4c3c9"/>
<rect x="54.54" y="168.45" width="3.35" height="4.00" fill="#c4c3c9"/>
<rect x="59.26" y="168.45" width="3.35" height="4.00" fill="#c4c3c9"/>
<rect x="63.98" y="168.45" width="3.35" height="4.00" fill="#c4c3c9"/>
<rect x="68.70" y="168.45" width="3.35" height="4.00" fill="#c4c3c9"/>
<rect x="73.42" y="168.45" width="3.35" height="4.00" fill="#c4c3c9"/>
<rect x="78.14" y="168.45" width="3.35" height="4.00" fill="#c4c3c9"/>
<rect x="82.86" y="168.45" width="3.35" height="4.00" fill="#c4c3c9"/>
<rect x="87.58" y="168.45" width="3.35" height="4.00" fill="#c4c3c9"/>
<rect x="92.30" y="168.45" width="3.35" height="4.00" fill="#c4c3c9"/>
<rect x="97.02" y="168.45" width="3.35" height="4.00" fill="#336520"/>
<rect x="101.74" y="168.45" width="3.35" height="4.00" fill="#c4c3c9"/>
<rect x="106.46" y="168.45" width="3.35" height="4.00" fill="#c4c3c9"/>
<rect x="111.18" y="168.45" width="3.35" height="4.00" fill="#c4c3c9"/>
<rect x="115.90" y="168.45" width="3.35" height="4.00" fill="#c4c3c9"/>
<rect x="120.62" y="168.45" width="3.35" height="4.00" fill="#c4c3c9"/>
<rect x="125.34" y="168.45" width="3.35" height="4.00" fill="#c4c3c9"/>
<rect x="130.06" y="168.45" width="3.35" height="4.00" fill="#c4c3c9"/>
<text x="38.00" y="172.10" font-size="5.4" text-anchor="end" fill="#1a1a1a">4%</text>
<text x="136.50" y="172.10" font-size="5.4" text-anchor="start" fill="#1a1a1a">EP300</text>
<rect x="45.10" y="173.93" width="3.35" height="4.00" fill="#c4c3c9"/>
<rect x="49.82" y="173.93" width="3.35" height="4.00" fill="#c4c3c9"/>
<rect x="54.54" y="173.93" width="3.35" height="4.00" fill="#c4c3c9"/>
<rect x="59.26" y="173.93" width="3.35" height="4.00" fill="#c4c3c9"/>
<rect x="63.98" y="173.93" width="3.35" height="4.00" fill="#c4c3c9"/>
<rect x="68.70" y="173.93" width="3.35" height="4.00" fill="#c4c3c9"/>
<rect x="73.42" y="173.93" width="3.35" height="4.00" fill="#c4c3c9"/>
<rect x="78.14" y="173.93" width="3.35" height="4.00" fill="#c4c3c9"/>
<rect x="82.86" y="173.93" width="3.35" height="4.00" fill="#c4c3c9"/>
<rect x="87.58" y="173.93" width="3.35" height="4.00" fill="#c4c3c9"/>
<rect x="92.30" y="173.93" width="3.35" height="4.00" fill="#c4c3c9"/>
<rect x="97.02" y="173.93" width="3.35" height="4.00" fill="#336520"/>
<rect x="101.74" y="173.93" width="3.35" height="4.00" fill="#c4c3c9"/>
<rect x="106.46" y="173.93" width="3.35" height="4.00" fill="#c4c3c9"/>
<rect x="111.18" y="173.93" width="3.35" height="4.00" fill="#c4c3c9"/>
<rect x="115.90" y="173.93" width="3.35" height="4.00" fill="#c4c3c9"/>
<rect x="120.62" y="173.93" width="3.35" height="4.00" fill="#c4c3c9"/>
<rect x="125.34" y="173.93" width="3.35" height="4.00" fill="#c4c3c9"/>
<rect x="130.06" y="173.93" width="3.35" height="4.00" fill="#c4c3c9"/>
<text x="38.00" y="177.58" font-size="5.4" text-anchor="end" fill="#1a1a1a">4%</text>
<text x="136.50" y="177.58" font-size="5.4" text-anchor="start" fill="#1a1a1a">CRYBG1</text>
<rect x="45.10" y="179.41" width="3.35" height="4.00" fill="#c4c3c9"/>
<rect x="49.82" y="179.41" width="3.35" height="4.00" fill="#c4c3c9"/>
<rect x="54.54" y="179.41" width="3.35" height="4.00" fill="#c4c3c9"/>
<rect x="59.26" y="179.41" width="3.35" height="4.00" fill="#c4c3c9"/>
<rect x="63.98" y="179.41" width="3.35" height="4.00" fill="#c4c3c9"/>
<rect x="68.70" y="179.41" width="3.35" height="4.00" fill="#c4c3c9"/>
<rect x="73.42" y="179.41" width="3.35" height="4.00" fill="#c4c3c9"/>
<rect x="78.14" y="179.41" width="3.35" height="4.00" fill="#c4c3c9"/>
<rect x="82.86" y="179.41" width="3.35" height="4.00" fill="#c4c3c9"/>
<rect x="87.58" y="179.41" width="3.35" height="4.00" fill="#c4c3c9"/>
<rect x="92.30" y="179.41" width="3.35" height="4.00" fill="#c4c3c9"/>
<rect x="97.02" y="179.41" width="3.35" height="4.00" fill="#336520"/>
<rect x="101.74" y="179.41" width="3.35" height="4.00" fill="#c4c3c9"/>
<rect x="106.46" y="179.41" width="3.35" height="4.00" fill="#c4c3c9"/>
<rect x="111.18" y="179.41" width="3.35" height="4.00" fill="#c4c3c9"/>
<rect x="115.90" y="179.41" width="3.35" height="4.00" fill="#c4c3c9"/>
<rect x="120.62" y="179.41" width="3.35" height="4.00" fill="#c4c3c9"/>
<rect x="125.34" y="179.41" width="3.35" height="4.00" fill="#c4c3c9"/>
<rect x="130.06" y="179.41" width="3.35" height="4.00" fill="#c4c3c9"/>
<text x="38.00" y="183.06" font-size="5.4" text-anchor="end" fill="#1a1a1a">4%</text>
<text x="136.50" y="183.06" font-size="5.4" text-anchor="start" fill="#1a1a1a">ARID1B</text>
<rect x="45.10" y="184.89" width="3.35" height="4.00" fill="#c4c3c9"/>
<rect x="49.82" y="184.89" width="3.35" height="4.00" fill="#c4c3c9"/>
<rect x="54.54" y="184.89" width="3.35" height="4.00" fill="#336520"/>
<rect x="59.26" y="184.89" width="3.35" height="4.00" fill="#c4c3c9"/>
<rect x="63.98" y="184.89" width="3.35" height="4.00" fill="#c4c3c9"/>
<rect x="68.70" y="184.89" width="3.35" height="4.00" fill="#c4c3c9"/>
<rect x="73.42" y="184.89" width="3.35" height="4.00" fill="#c4c3c9"/>
<rect x="78.14" y="184.89" width="3.35" height="4.00" fill="#c4c3c9"/>
<rect x="82.86" y="184.89" width="3.35" height="4.00" fill="#c4c3c9"/>
<rect x="87.58" y="184.89" width="3.35" height="4.00" fill="#c4c3c9"/>
<rect x="92.30" y="184.89" width="3.35" height="4.00" fill="#c4c3c9"/>
<rect x="97.02" y="184.89" width="3.35" height="4.00" fill="#c4c3c9"/>
<rect x="101.74" y="184.89" width="3.35" height="4.00" fill="#c4c3c9"/>
<rect x="106.46" y="184.89" width="3.35" height="4.00" fill="#c4c3c9"/>
<rect x="111.18" y="184.89" width="3.35" height="4.00" fill="#c4c3c9"/>
<rect x="115.90" y="184.89" width="3.35" height="4.00" fill="#c4c3c9"/>
<rect x="120.62" y="184.89" width="3.35" height="4.00" fill="#c4c3c9"/>
<rect x="125.34" y="184.89" width="3.35" height="4.00" fill="#c4c3c9"/>
<rect x="130.06" y="184.89" width="3.35" height="4.00" fill="#c4c3c9"/>
<text x="38.00" y="188.54" font-size="5.4" text-anchor="end" fill="#1a1a1a">4%</text>
<text x="136.50" y="188.54" font-size="5.4" text-anchor="start" fill="#1a1a1a">EZH2</text>
<rect x="45.10" y="190.37" width="3.35" height="4.00" fill="#c4c3c9"/>
<rect x="49.82" y="190.37" width="3.35" height="4.00" fill="#c4c3c9"/>
<rect x="54.54" y="190.37" width="3.35" height="4.00" fill="#c4c3c9"/>
<rect x="59.26" y="190.37" width="3.35" height="4.00" fill="#c4c3c9"/>
<rect x="63.98" y="190.37" width="3.35" height="4.00" fill="#c4c3c9"/>
<rect x="68.70" y="190.37" width="3.35" height="4.00" fill="#c4c3c9"/>
<rect x="73.42" y="190.37" width="3.35" height="4.00" fill="#c4c3c9"/>
<rect x="78.14" y="190.37" width="3.35" height="4.00" fill="#c4c3c9"/>
<rect x="82.86" y="190.37" width="3.35" height="4.00" fill="#c4c3c9"/>
<rect x="87.58" y="190.37" width="3.35" height="4.00" fill="#c4c3c9"/>
<rect x="92.30" y="190.37" width="3.35" height="4.00" fill="#c4c3c9"/>
<rect x="97.02" y="190.37" width="3.35" height="4.00" fill="#c4c3c9"/>
<rect x="101.74" y="190.37" width="3.35" height="4.00" fill="#c4c3c9"/>
<rect x="106.46" y="190.37" width="3.35" height="4.00" fill="#c4c3c9"/>
<rect x="111.18" y="190.37" width="3.35" height="4.00" fill="#c4c3c9"/>
<rect x="115.90" y="190.37" width="3.35" height="4.00" fill="#c4c3c9"/>
<rect x="120.62" y="190.37" width="3.35" height="4.00" fill="#c4c3c9"/>
<rect x="125.34" y="190.37" width="3.35" height="4.00" fill="#336520"/>
<rect x="130.06" y="190.37" width="3.35" height="4.00" fill="#c4c3c9"/>
<text x="38.00" y="194.02" font-size="5.4" text-anchor="end" fill="#1a1a1a">4%</text>
<text x="136.50" y="194.02" font-size="5.4" text-anchor="start" fill="#1a1a1a">DNMT3A</text>
<rect x="45.10" y="195.85" width="3.35" height="4.00" fill="#c4c3c9"/>
<rect x="49.82" y="195.85" width="3.35" height="4.00" fill="#c4c3c9"/>
<rect x="54.54" y="195.85" width="3.35" height="4.00" fill="#c4c3c9"/>
<rect x="59.26" y="195.85" width="3.35" height="4.00" fill="#c4c3c9"/>
<rect x="63.98" y="195.85" width="3.35" height="4.00" fill="#c4c3c9"/>
<rect x="68.70" y="195.85" width="3.35" height="4.00" fill="#c4c3c9"/>
<rect x="73.42" y="195.85" width="3.35" height="4.00" fill="#c4c3c9"/>
<rect x="78.14" y="195.85" width="3.35" height="4.00" fill="#c4c3c9"/>
<rect x="82.86" y="195.85" width="3.35" height="4.00" fill="#c4c3c9"/>
<rect x="87.58" y="195.85" width="3.35" height="4.00" fill="#c4c3c9"/>
<rect x="92.30" y="195.85" width="3.35" height="4.00" fill="#c4c3c9"/>
<rect x="97.02" y="195.85" width="3.35" height="4.00" fill="#c4c3c9"/>
<rect x="101.74" y="195.85" width="3.35" height="4.00" fill="#c4c3c9"/>
<rect x="106.46" y="195.85" width="3.35" height="4.00" fill="#c4c3c9"/>
<rect x="111.18" y="195.85" width="3.35" height="4.00" fill="#c4c3c9"/>
<rect x="115.90" y="195.85" width="3.35" height="4.00" fill="#c4c3c9"/>
<rect x="120.62" y="195.85" width="3.35" height="4.00" fill="#c4c3c9"/>
<rect x="125.34" y="195.85" width="3.35" height="4.00" fill="#231b8c"/>
<rect x="130.06" y="195.85" width="3.35" height="4.00" fill="#c4c3c9"/>
<text x="38.00" y="199.50" font-size="5.4" text-anchor="end" fill="#1a1a1a">4%</text>
<text x="136.50" y="199.50" font-size="5.4" text-anchor="start" fill="#1a1a1a">TET2</text>
<rect x="45.10" y="201.33" width="3.35" height="4.00" fill="#c4c3c9"/>
<rect x="49.82" y="201.33" width="3.35" height="4.00" fill="#c4c3c9"/>
<rect x="54.54" y="201.33" width="3.35" height="4.00" fill="#c4c3c9"/>
<rect x="59.26" y="201.33" width="3.35" height="4.00" fill="#c4c3c9"/>
<rect x="63.98" y="201.33" width="3.35" height="4.00" fill="#c4c3c9"/>
<rect x="68.70" y="201.33" width="3.35" height="4.00" fill="#c4c3c9"/>
<rect x="73.42" y="201.33" width="3.35" height="4.00" fill="#c4c3c9"/>
<rect x="78.14" y="201.33" width="3.35" height="4.00" fill="#c4c3c9"/>
<rect x="82.86" y="201.33" width="3.35" height="4.00" fill="#c4c3c9"/>
<rect x="87.58" y="201.33" width="3.35" height="4.00" fill="#c4c3c9"/>
<rect x="92.30" y="201.33" width="3.35" height="4.00" fill="#c4c3c9"/>
<rect x="97.02" y="201.33" width="3.35" height="4.00" fill="#c4c3c9"/>
<rect x="101.74" y="201.33" width="3.35" height="4.00" fill="#c4c3c9"/>
<rect x="106.46" y="201.33" width="3.35" height="4.00" fill="#c4c3c9"/>
<rect x="111.18" y="201.33" width="3.35" height="4.00" fill="#c4c3c9"/>
<rect x="115.90" y="201.33" width="3.35" height="4.00" fill="#c4c3c9"/>
<rect x="120.62" y="201.33" width="3.35" height="4.00" fill="#c4c3c9"/>
<rect x="125.34" y="201.33" width="3.35" height="4.00" fill="#336520"/>
<rect x="130.06" y="201.33" width="3.35" height="4.00" fill="#c4c3c9"/>
<text x="38.00" y="204.98" font-size="5.4" text-anchor="end" fill="#1a1a1a">4%</text>
<text x="136.50" y="204.98" font-size="5.4" text-anchor="start" fill="#1a1a1a">KMT2C</text>
<rect x="45.10" y="206.81" width="3.35" height="4.00" fill="#c4c3c9"/>
<rect x="49.82" y="206.81" width="3.35" height="4.00" fill="#c4c3c9"/>
<rect x="54.54" y="206.81" width="3.35" height="4.00" fill="#c4c3c9"/>
<rect x="59.26" y="206.81" width="3.35" height="4.00" fill="#c4c3c9"/>
<rect x="63.98" y="206.81" width="3.35" height="4.00" fill="#c4c3c9"/>
<rect x="68.70" y="206.81" width="3.35" height="4.00" fill="#c4c3c9"/>
<rect x="73.42" y="206.81" width="3.35" height="4.00" fill="#c4c3c9"/>
<rect x="78.14" y="206.81" width="3.35" height="4.00" fill="#c4c3c9"/>
<rect x="82.86" y="206.81" width="3.35" height="4.00" fill="#c4c3c9"/>
<rect x="87.58" y="206.81" width="3.35" height="4.00" fill="#c4c3c9"/>
<rect x="92.30" y="206.81" width="3.35" height="4.00" fill="#c4c3c9"/>
<rect x="97.02" y="206.81" width="3.35" height="4.00" fill="#c4c3c9"/>
<rect x="101.74" y="206.81" width="3.35" height="4.00" fill="#c4c3c9"/>
<rect x="106.46" y="206.81" width="3.35" height="4.00" fill="#231b8c"/>
<rect x="111.18" y="206.81" width="3.35" height="4.00" fill="#c4c3c9"/>
<rect x="115.90" y="206.81" width="3.35" height="4.00" fill="#c4c3c9"/>
<rect x="120.62" y="206.81" width="3.35" height="4.00" fill="#c4c3c9"/>
<rect x="125.34" y="206.81" width="3.35" height="4.00" fill="#c4c3c9"/>
<rect x="130.06" y="206.81" width="3.35" height="4.00" fill="#c4c3c9"/>
<text x="38.00" y="210.46" font-size="5.4" text-anchor="end" fill="#1a1a1a">4%</text>
<text x="136.50" y="210.46" font-size="5.4" text-anchor="start" fill="#1a1a1a">DDX3X</text>
<rect x="45.10" y="212.29" width="3.35" height="4.00" fill="#c4c3c9"/>
<rect x="49.82" y="212.29" width="3.35" height="4.00" fill="#c4c3c9"/>
<rect x="54.54" y="212.29" width="3.35" height="4.00" fill="#c4c3c9"/>
<rect x="59.26" y="212.29" width="3.35" height="4.00" fill="#c4c3c9"/>
<rect x="63.98" y="212.29" width="3.35" height="4.00" fill="#c4c3c9"/>
<rect x="68.70" y="212.29" width="3.35" height="4.00" fill="#c4c3c9"/>
<rect x="73.42" y="212.29" width="3.35" height="4.00" fill="#c4c3c9"/>
<rect x="78.14" y="212.29" width="3.35" height="4.00" fill="#c4c3c9"/>
<rect x="82.86" y="212.29" width="3.35" height="4.00" fill="#c4c3c9"/>
<rect x="87.58" y="212.29" width="3.35" height="4.00" fill="#c4c3c9"/>
<rect x="92.30" y="212.29" width="3.35" height="4.00" fill="#c4c3c9"/>
<rect x="97.02" y="212.29" width="3.35" height="4.00" fill="#c4c3c9"/>
<rect x="101.74" y="212.29" width="3.35" height="4.00" fill="#c4c3c9"/>
<rect x="106.46" y="212.29" width="3.35" height="4.00" fill="#d3261c"/>
<rect x="111.18" y="212.29" width="3.35" height="4.00" fill="#c4c3c9"/>
<rect x="115.90" y="212.29" width="3.35" height="4.00" fill="#c4c3c9"/>
<rect x="120.62" y="212.29" width="3.35" height="4.00" fill="#c4c3c9"/>
<rect x="125.34" y="212.29" width="3.35" height="4.00" fill="#c4c3c9"/>
<rect x="130.06" y="212.29" width="3.35" height="4.00" fill="#c4c3c9"/>
<text x="38.00" y="215.94" font-size="5.4" text-anchor="end" fill="#1a1a1a">4%</text>
<text x="136.50" y="215.94" font-size="5.4" text-anchor="start" fill="#1a1a1a">CD28</text>
<rect x="45.10" y="217.77" width="3.35" height="4.00" fill="#c4c3c9"/>
<rect x="49.82" y="217.77" width="3.35" height="4.00" fill="#c4c3c9"/>
<rect x="54.54" y="217.77" width="3.35" height="4.00" fill="#c4c3c9"/>
<rect x="59.26" y="217.77" width="3.35" height="4.00" fill="#c4c3c9"/>
<rect x="63.98" y="217.77" width="3.35" height="4.00" fill="#c4c3c9"/>
<rect x="68.70" y="217.77" width="3.35" height="4.00" fill="#c4c3c9"/>
<rect x="73.42" y="217.77" width="3.35" height="4.00" fill="#c4c3c9"/>
<rect x="78.14" y="217.77" width="3.35" height="4.00" fill="#c4c3c9"/>
<rect x="82.86" y="217.77" width="3.35" height="4.00" fill="#c4c3c9"/>
<rect x="87.58" y="217.77" width="3.35" height="4.00" fill="#c4c3c9"/>
<rect x="92.30" y="217.77" width="3.35" height="4.00" fill="#c4c3c9"/>
<rect x="97.02" y="217.77" width="3.35" height="4.00" fill="#c4c3c9"/>
<rect x="101.74" y="217.77" width="3.35" height="4.00" fill="#c4c3c9"/>
<rect x="106.46" y="217.77" width="3.35" height="4.00" fill="#c4c3c9"/>
<rect x="111.18" y="217.77" width="3.35" height="4.00" fill="#c4c3c9"/>
<rect x="115.90" y="217.77" width="3.35" height="4.00" fill="#c4c3c9"/>
<rect x="120.62" y="217.77" width="3.35" height="4.00" fill="#c4c3c9"/>
<rect x="125.34" y="217.77" width="3.35" height="4.00" fill="#c4c3c9"/>
<rect x="130.06" y="217.77" width="3.35" height="4.00" fill="#231b8c"/>
<text x="38.00" y="221.42" font-size="5.4" text-anchor="end" fill="#1a1a1a">4%</text>
<text x="136.50" y="221.42" font-size="5.4" text-anchor="start" fill="#1a1a1a">CXCR4</text>
<rect x="45.10" y="223.25" width="3.35" height="4.00" fill="#c4c3c9"/>
<rect x="49.82" y="223.25" width="3.35" height="4.00" fill="#c4c3c9"/>
<rect x="54.54" y="223.25" width="3.35" height="4.00" fill="#c4c3c9"/>
<rect x="59.26" y="223.25" width="3.35" height="4.00" fill="#c4c3c9"/>
<rect x="63.98" y="223.25" width="3.35" height="4.00" fill="#c4c3c9"/>
<rect x="68.70" y="223.25" width="3.35" height="4.00" fill="#c4c3c9"/>
<rect x="73.42" y="223.25" width="3.35" height="4.00" fill="#c4c3c9"/>
<rect x="78.14" y="223.25" width="3.35" height="4.00" fill="#c4c3c9"/>
<rect x="82.86" y="223.25" width="3.35" height="4.00" fill="#c4c3c9"/>
<rect x="87.58" y="223.25" width="3.35" height="4.00" fill="#336520"/>
<rect x="92.30" y="223.25" width="3.35" height="4.00" fill="#c4c3c9"/>
<rect x="97.02" y="223.25" width="3.35" height="4.00" fill="#c4c3c9"/>
<rect x="101.74" y="223.25" width="3.35" height="4.00" fill="#c4c3c9"/>
<rect x="106.46" y="223.25" width="3.35" height="4.00" fill="#c4c3c9"/>
<rect x="111.18" y="223.25" width="3.35" height="4.00" fill="#c4c3c9"/>
<rect x="115.90" y="223.25" width="3.35" height="4.00" fill="#c4c3c9"/>
<rect x="120.62" y="223.25" width="3.35" height="4.00" fill="#c4c3c9"/>
<rect x="125.34" y="223.25" width="3.35" height="4.00" fill="#c4c3c9"/>
<rect x="130.06" y="223.25" width="3.35" height="4.00" fill="#c4c3c9"/>
<text x="38.00" y="226.90" font-size="5.4" text-anchor="end" fill="#1a1a1a">4%</text>
<text x="136.50" y="226.90" font-size="5.4" text-anchor="start" fill="#1a1a1a">JAK1</text>
<rect x="169.10" y="58.85" width="23.75" height="4.00" fill="#336520"/>
<rect x="192.85" y="58.85" width="9.50" height="4.00" fill="#d3261c"/>
<rect x="169.10" y="64.33" width="23.75" height="4.00" fill="#336520"/>
<rect x="192.85" y="64.33" width="4.75" height="4.00" fill="#050505"/>
<rect x="169.10" y="69.81" width="9.50" height="4.00" fill="#050505"/>
<rect x="178.60" y="69.81" width="4.75" height="4.00" fill="#231b8c"/>
<rect x="183.35" y="69.81" width="4.75" height="4.00" fill="#911e1f"/>
<rect x="169.10" y="75.29" width="14.25" height="4.00" fill="#050505"/>
<rect x="183.35" y="75.29" width="14.25" height="4.00" fill="#231b8c"/>
<rect x="169.10" y="80.77" width="4.75" height="4.00" fill="#336520"/>
<rect x="173.85" y="80.77" width="9.50" height="4.00" fill="#d3261c"/>
<rect x="169.10" y="86.25" width="9.50" height="4.00" fill="#d3261c"/>
<rect x="169.10" y="91.73" width="9.50" height="4.00" fill="#336520"/>
<rect x="169.10" y="97.21" width="9.50" height="4.00" fill="#336520"/>
<rect x="169.10" y="102.69" width="9.50" height="4.00" fill="#336520"/>
<rect x="169.10" y="108.17" width="4.75" height="4.00" fill="#336520"/>
<rect x="173.85" y="108.17" width="4.75" height="4.00" fill="#231b8c"/>
<rect x="169.10" y="113.65" width="4.75" height="4.00" fill="#336520"/>
<rect x="173.85" y="113.65" width="4.75" height="4.00" fill="#d3261c"/>
<rect x="169.10" y="119.13" width="4.75" height="4.00" fill="#6a2d8f"/>
<rect x="169.10" y="124.61" width="4.75" height="4.00" fill="#d3261c"/>
<rect x="169.10" y="130.09" width="4.75" height="4.00" fill="#e9a325"/>
<rect x="169.10" y="135.57" width="4.75" height="4.00" fill="#e9a325"/>
<rect x="169.10" y="141.05" width="4.75" height="4.00" fill="#336520"/>
<rect x="169.10" y="146.53" width="4.75" height="4.00" fill="#050505"/>
<rect x="169.10" y="152.01" width="4.75" height="4.00" fill="#336520"/>
<rect x="169.10" y="157.49" width="4.75" height="4.00" fill="#336520"/>
<rect x="169.10" y="162.97" width="4.75" height="4.00" fill="#336520"/>
<rect x="169.10" y="168.45" width="4.75" height="4.00" fill="#336520"/>
<rect x="169.10" y="173.93" width="4.75" height="4.00" fill="#336520"/>
<rect x="169.10" y="179.41" width="4.75" height="4.00" fill="#336520"/>
<rect x="169.10" y="184.89" width="4.75" height="4.00" fill="#336520"/>
<rect x="169.10" y="190.37" width="4.75" height="4.00" fill="#336520"/>
<rect x="169.10" y="195.85" width="4.75" height="4.00" fill="#336520"/>
<rect x="173.85" y="195.85" width="4.75" height="4.00" fill="#231b8c"/>
<rect x="169.10" y="201.33" width="4.75" height="4.00" fill="#336520"/>
<rect x="169.10" y="206.81" width="4.75" height="4.00" fill="#231b8c"/>
<rect x="169.10" y="212.29" width="4.75" height="4.00" fill="#d3261c"/>
<rect x="169.10" y="217.77" width="4.75" height="4.00" fill="#231b8c"/>
<rect x="169.10" y="223.25" width="4.75" height="4.00" fill="#336520"/>
<line x1="168.80" y1="56.50" x2="202.65" y2="56.50" stroke="#000" stroke-width="1.0"/>
<line x1="169.50" y1="53.70" x2="169.50" y2="56.60" stroke="#000" stroke-width="1.0"/>
<text x="169.10" y="49.40" font-size="5.4" text-anchor="middle" fill="#1a1a1a">0</text>
<line x1="173.50" y1="53.70" x2="173.50" y2="56.60" stroke="#000" stroke-width="1.0"/>
<text x="173.85" y="49.40" font-size="5.4" text-anchor="middle" fill="#1a1a1a">1</text>
<line x1="178.50" y1="53.70" x2="178.50" y2="56.60" stroke="#000" stroke-width="1.0"/>
<text x="178.60" y="49.40" font-size="5.4" text-anchor="middle" fill="#1a1a1a">2</text>
<line x1="183.50" y1="53.70" x2="183.50" y2="56.60" stroke="#000" stroke-width="1.0"/>
<text x="183.35" y="49.40" font-size="5.4" text-anchor="middle" fill="#1a1a1a">3</text>
<line x1="188.50" y1="53.70" x2="188.50" y2="56.60" stroke="#000" stroke-width="1.0"/>
<text x="188.10" y="49.40" font-size="5.4" text-anchor="middle" fill="#1a1a1a">4</text>
<line x1="192.50" y1="53.70" x2="192.50" y2="56.60" stroke="#000" stroke-width="1.0"/>
<text x="192.85" y="49.40" font-size="5.4" text-anchor="middle" fill="#1a1a1a">5</text>
<line x1="197.50" y1="53.70" x2="197.50" y2="56.60" stroke="#000" stroke-width="1.0"/>
<text x="197.60" y="49.40" font-size="5.4" text-anchor="middle" fill="#1a1a1a">6</text>
<line x1="202.50" y1="53.70" x2="202.50" y2="56.60" stroke="#000" stroke-width="1.0"/>
<text x="202.35" y="49.40" font-size="5.4" text-anchor="middle" fill="#1a1a1a">7</text>
<text transform="translate(185.50,32.00) scale(1,1.3)" font-size="5.3" text-anchor="middle" fill="#1a1a1a" style="stroke-width:0.3px">No. of</text>
<text transform="translate(185.80,38.70) scale(1,1.3)" font-size="5.4" text-anchor="middle" fill="#1a1a1a" style="stroke-width:0.3px">mutations</text>
<text x="203.90" y="114.90" font-size="5.4" text-anchor="start" fill="#1a1a1a">Alterations</text>
<rect x="203.90" y="119.30" width="8.20" height="8.75" fill="#336520"/>
<text x="215.30" y="125.30" font-size="5.5" text-anchor="start" fill="#1a1a1a">Missense</text>
<rect x="203.90" y="128.05" width="8.20" height="8.75" fill="#d3261c"/>
<text x="215.30" y="134.05" font-size="5.5" text-anchor="start" fill="#1a1a1a">CN_amp</text>
<rect x="203.90" y="136.80" width="8.20" height="8.75" fill="#6a2d8f"/>
<text x="215.30" y="142.80" font-size="5.5" text-anchor="start" fill="#1a1a1a">Indel</text>
<rect x="203.90" y="145.55" width="8.20" height="8.75" fill="#231b8c"/>
<text x="215.30" y="151.55" font-size="5.5" text-anchor="start" fill="#1a1a1a">Stop_gained</text>
<rect x="203.90" y="154.30" width="8.20" height="8.75" fill="#050505"/>
<text x="215.30" y="160.30" font-size="5.5" text-anchor="start" fill="#1a1a1a">Frameshift</text>
<rect x="203.90" y="163.05" width="8.20" height="8.75" fill="#911e1f"/>
<text x="215.30" y="169.05" font-size="5.5" text-anchor="start" fill="#1a1a1a">Splice_site</text>
<rect x="203.90" y="171.80" width="8.20" height="8.75" fill="#e9a325"/>
<text x="215.30" y="177.80" font-size="5.5" text-anchor="start" fill="#1a1a1a">Fusion</text>
<text x="203.80" y="195.00" font-size="5.4" text-anchor="start" fill="#1a1a1a">Stage</text>
<rect x="203.80" y="199.40" width="7.00" height="7.20" fill="#dce9f6"/>
<text x="214.00" y="204.60" font-size="5.6" text-anchor="start" fill="#1a1a1a">1</text>
<rect x="203.80" y="206.60" width="7.00" height="7.20" fill="#a8cbe2"/>
<text x="214.00" y="211.80" font-size="5.6" text-anchor="start" fill="#1a1a1a">2</text>
<rect x="203.80" y="213.80" width="7.00" height="7.20" fill="#4a7bbf"/>
<text x="214.00" y="219.00" font-size="5.6" text-anchor="start" fill="#1a1a1a">3</text>
<rect x="203.80" y="221.00" width="7.00" height="7.20" fill="#15306c"/>
<text x="214.00" y="226.20" font-size="5.6" text-anchor="start" fill="#1a1a1a">4</text>
<rect x="44.41" y="230.10" width="4.72" height="4.90" fill="#a8cbe2"/>
<rect x="49.13" y="230.10" width="9.44" height="4.90" fill="#15306c"/>
<rect x="58.58" y="230.10" width="4.72" height="4.90" fill="#4a7bbf"/>
<rect x="63.30" y="230.10" width="9.44" height="4.90" fill="#dce9f6"/>
<rect x="72.73" y="230.10" width="9.44" height="4.90" fill="#15306c"/>
<rect x="82.17" y="230.10" width="4.72" height="4.90" fill="#dce9f6"/>
<rect x="86.89" y="230.10" width="4.72" height="4.90" fill="#15306c"/>
<rect x="91.61" y="230.10" width="4.72" height="4.90" fill="#c8c8c8"/>
<rect x="96.33" y="230.10" width="4.72" height="4.90" fill="#15306c"/>
<rect x="101.06" y="230.10" width="4.72" height="4.90" fill="#a8cbe2"/>
<rect x="105.78" y="230.10" width="4.72" height="4.90" fill="#15306c"/>
<rect x="110.50" y="230.10" width="14.16" height="4.90" fill="#a8cbe2"/>
<rect x="124.66" y="230.10" width="9.44" height="4.90" fill="#15306c"/>
<text x="41.00" y="234.10" font-size="5.2" text-anchor="end" fill="#1a1a1a">Frequency</text>
<text x="262.20" y="17.70" font-size="12.0" text-anchor="start" font-weight="bold" fill="#000" style="stroke:#000;stroke-width:0.4px">B</text>
<text transform="translate(272.6,46.2) rotate(90) scale(1,1.3)" style="stroke-width:0.28px" font-size="5.4" text-anchor="middle" fill="#1a1a1a">mutations</text>
<text transform="translate(279.6,47.4) rotate(90) scale(1,1.3)" style="stroke-width:0.28px" font-size="5.3" text-anchor="middle" fill="#1a1a1a">No. of</text>
<line x1="298.50" y1="31.68" x2="298.50" y2="62.10" stroke="#000" stroke-width="1.0"/>
<line x1="296.30" y1="62.50" x2="299.30" y2="62.50" stroke="#000" stroke-width="1.0"/>
<text x="292.10" y="63.90" font-size="5.4" text-anchor="end" fill="#1a1a1a">0</text>
<line x1="296.30" y1="57.50" x2="299.30" y2="57.50" stroke="#000" stroke-width="1.0"/>
<text x="292.10" y="58.83" font-size="5.4" text-anchor="end" fill="#1a1a1a">1</text>
<line x1="296.30" y1="51.50" x2="299.30" y2="51.50" stroke="#000" stroke-width="1.0"/>
<text x="292.10" y="53.76" font-size="5.4" text-anchor="end" fill="#1a1a1a">2</text>
<line x1="296.30" y1="46.50" x2="299.30" y2="46.50" stroke="#000" stroke-width="1.0"/>
<text x="292.10" y="48.69" font-size="5.4" text-anchor="end" fill="#1a1a1a">3</text>
<line x1="296.30" y1="41.50" x2="299.30" y2="41.50" stroke="#000" stroke-width="1.0"/>
<text x="292.10" y="43.62" font-size="5.4" text-anchor="end" fill="#1a1a1a">4</text>
<line x1="296.30" y1="36.50" x2="299.30" y2="36.50" stroke="#000" stroke-width="1.0"/>
<text x="292.10" y="38.55" font-size="5.4" text-anchor="end" fill="#1a1a1a">5</text>
<line x1="296.30" y1="31.50" x2="299.30" y2="31.50" stroke="#000" stroke-width="1.0"/>
<text x="292.10" y="33.48" font-size="5.4" text-anchor="end" fill="#1a1a1a">6</text>
<rect x="299.80" y="51.96" width="5.00" height="10.14" fill="#336520"/>
<rect x="299.80" y="41.82" width="5.00" height="10.14" fill="#eebdca"/>
<rect x="299.80" y="36.75" width="5.00" height="5.07" fill="#231b8c"/>
<rect x="306.48" y="57.03" width="5.00" height="5.07" fill="#336520"/>
<rect x="306.48" y="51.96" width="5.00" height="5.07" fill="#231b8c"/>
<rect x="313.16" y="51.96" width="5.00" height="10.14" fill="#336520"/>
<rect x="313.16" y="36.75" width="5.00" height="15.21" fill="#231b8c"/>
<rect x="319.84" y="46.89" width="5.00" height="15.21" fill="#336520"/>
<rect x="326.52" y="41.82" width="5.00" height="20.28" fill="#336520"/>
<rect x="326.52" y="31.68" width="5.00" height="10.14" fill="#eebdca"/>
<rect x="333.20" y="51.96" width="5.00" height="10.14" fill="#336520"/>
<rect x="339.88" y="51.96" width="5.00" height="10.14" fill="#336520"/>
<rect x="339.88" y="41.82" width="5.00" height="10.14" fill="#231b8c"/>
<rect x="346.56" y="57.03" width="5.00" height="5.07" fill="#336520"/>
<rect x="346.56" y="51.96" width="5.00" height="5.07" fill="#eebdca"/>
<rect x="353.24" y="51.96" width="5.00" height="10.14" fill="#336520"/>
<rect x="353.24" y="46.89" width="5.00" height="5.07" fill="#231b8c"/>
<rect x="359.92" y="57.03" width="5.00" height="5.07" fill="#eebdca"/>
<rect x="366.60" y="51.96" width="5.00" height="10.14" fill="#eebdca"/>
<rect x="386.64" y="51.96" width="5.00" height="10.14" fill="#eebdca"/>
<rect x="299.80" y="64.80" width="5.00" height="5.40" fill="#336520"/>
<rect x="305.98" y="65.50" width="6.00" height="4.00" fill="#231b8c" rx="0.6"/>
<rect x="313.16" y="64.80" width="5.00" height="5.40" fill="#336520"/>
<rect x="319.84" y="64.80" width="5.00" height="5.40" fill="#336520"/>
<rect x="326.52" y="64.80" width="5.00" height="5.40" fill="#c4c3c9"/>
<rect x="333.20" y="64.80" width="5.00" height="5.40" fill="#c4c3c9"/>
<rect x="339.88" y="64.80" width="5.00" height="5.40" fill="#c4c3c9"/>
<rect x="346.56" y="64.80" width="5.00" height="5.40" fill="#c4c3c9"/>
<rect x="353.24" y="64.80" width="5.00" height="5.40" fill="#c4c3c9"/>
<rect x="359.92" y="64.80" width="5.00" height="5.40" fill="#c4c3c9"/>
<rect x="366.60" y="64.80" width="5.00" height="5.40" fill="#c4c3c9"/>
<rect x="373.28" y="64.80" width="5.00" height="5.40" fill="#c4c3c9"/>
<rect x="379.96" y="64.80" width="5.00" height="5.40" fill="#c4c3c9"/>
<rect x="386.64" y="64.80" width="5.00" height="5.40" fill="#c4c3c9"/>
<rect x="393.32" y="64.80" width="5.00" height="5.40" fill="#c4c3c9"/>
<rect x="400.00" y="64.80" width="5.00" height="5.40" fill="#c4c3c9"/>
<text x="292.30" y="69.45" font-size="5.6" text-anchor="end" fill="#1a1a1a">25%</text>
<text x="408.00" y="69.40" font-size="5.5" text-anchor="start" fill="#1a1a1a">TP53</text>
<rect x="299.80" y="71.95" width="5.00" height="5.40" fill="#c4c3c9"/>
<rect x="299.30" y="72.66" width="6.00" height="4.00" fill="#eebdca" rx="0.6"/>
<rect x="306.48" y="71.95" width="5.00" height="5.40" fill="#336520"/>
<rect x="312.66" y="72.66" width="6.00" height="4.00" fill="#231b8c" rx="0.6"/>
<rect x="319.84" y="71.95" width="5.00" height="5.40" fill="#c4c3c9"/>
<rect x="326.52" y="71.95" width="5.00" height="5.40" fill="#c4c3c9"/>
<rect x="333.20" y="71.95" width="5.00" height="5.40" fill="#c4c3c9"/>
<rect x="339.88" y="71.95" width="5.00" height="5.40" fill="#c4c3c9"/>
<rect x="346.56" y="71.95" width="5.00" height="5.40" fill="#c4c3c9"/>
<rect x="353.24" y="71.95" width="5.00" height="5.40" fill="#c4c3c9"/>
<rect x="359.92" y="71.95" width="5.00" height="5.40" fill="#c4c3c9"/>
<rect x="359.42" y="72.66" width="6.00" height="4.00" fill="#eebdca" rx="0.6"/>
<rect x="366.60" y="71.95" width="5.00" height="5.40" fill="#c4c3c9"/>
<rect x="373.28" y="71.95" width="5.00" height="5.40" fill="#c4c3c9"/>
<rect x="379.96" y="71.95" width="5.00" height="5.40" fill="#c4c3c9"/>
<rect x="386.64" y="71.95" width="5.00" height="5.40" fill="#c4c3c9"/>
<rect x="393.32" y="71.95" width="5.00" height="5.40" fill="#c4c3c9"/>
<rect x="400.00" y="71.95" width="5.00" height="5.40" fill="#c4c3c9"/>
<text x="292.30" y="76.61" font-size="5.6" text-anchor="end" fill="#1a1a1a">25%</text>
<text x="408.00" y="76.55" font-size="5.5" text-anchor="start" fill="#1a1a1a">STAT3</text>
<rect x="299.80" y="79.11" width="5.00" height="5.40" fill="#c4c3c9"/>
<rect x="306.48" y="79.11" width="5.00" height="5.40" fill="#c4c3c9"/>
<rect x="313.16" y="79.11" width="5.00" height="5.40" fill="#c4c3c9"/>
<rect x="319.84" y="79.11" width="5.00" height="5.40" fill="#336520"/>
<rect x="326.52" y="79.11" width="5.00" height="5.40" fill="#336520"/>
<rect x="333.20" y="79.11" width="5.00" height="5.40" fill="#336520"/>
<rect x="339.88" y="79.11" width="5.00" height="5.40" fill="#c4c3c9"/>
<rect x="346.56" y="79.11" width="5.00" height="5.40" fill="#c4c3c9"/>
<rect x="353.24" y="79.11" width="5.00" height="5.40" fill="#c4c3c9"/>
<rect x="359.92" y="79.11" width="5.00" height="5.40" fill="#c4c3c9"/>
<rect x="366.60" y="79.11" width="5.00" height="5.40" fill="#c4c3c9"/>
<rect x="373.28" y="79.11" width="5.00" height="5.40" fill="#c4c3c9"/>
<rect x="379.96" y="79.11" width="5.00" height="5.40" fill="#c4c3c9"/>
<rect x="386.64" y="79.11" width="5.00" height="5.40" fill="#c4c3c9"/>
<rect x="393.32" y="79.11" width="5.00" height="5.40" fill="#c4c3c9"/>
<rect x="400.00" y="79.11" width="5.00" height="5.40" fill="#c4c3c9"/>
<text x="292.30" y="83.76" font-size="5.6" text-anchor="end" fill="#1a1a1a">19%</text>
<text x="408.00" y="83.71" font-size="5.5" text-anchor="start" fill="#1a1a1a">BCOR</text>
<rect x="299.80" y="86.27" width="5.00" height="5.40" fill="#336520"/>
<rect x="299.30" y="87.27" width="6.00" height="3.40" fill="#eebdca" rx="0.6"/>
<rect x="306.48" y="86.27" width="5.00" height="5.40" fill="#c4c3c9"/>
<rect x="313.16" y="86.27" width="5.00" height="5.40" fill="#c4c3c9"/>
<rect x="319.84" y="86.27" width="5.00" height="5.40" fill="#c4c3c9"/>
<rect x="326.52" y="86.27" width="5.00" height="5.40" fill="#c4c3c9"/>
<rect x="333.20" y="86.27" width="5.00" height="5.40" fill="#c4c3c9"/>
<rect x="339.88" y="86.27" width="5.00" height="5.40" fill="#336520"/>
<rect x="346.56" y="86.27" width="5.00" height="5.40" fill="#c4c3c9"/>
<rect x="353.24" y="86.27" width="5.00" height="5.40" fill="#c4c3c9"/>
<rect x="359.92" y="86.27" width="5.00" height="5.40" fill="#c4c3c9"/>
<rect x="366.60" y="86.27" width="5.00" height="5.40" fill="#c4c3c9"/>
<rect x="373.28" y="86.27" width="5.00" height="5.40" fill="#c4c3c9"/>
<rect x="379.96" y="86.27" width="5.00" height="5.40" fill="#c4c3c9"/>
<rect x="386.64" y="86.27" width="5.00" height="5.40" fill="#c4c3c9"/>
<rect x="386.14" y="86.97" width="6.00" height="4.00" fill="#eebdca" rx="0.6"/>
<rect x="393.32" y="86.27" width="5.00" height="5.40" fill="#c4c3c9"/>
<rect x="400.00" y="86.27" width="5.00" height="5.40" fill="#c4c3c9"/>
<text x="292.30" y="90.92" font-size="5.6" text-anchor="end" fill="#1a1a1a">19%</text>
<text x="408.00" y="90.86" font-size="5.5" text-anchor="start" fill="#1a1a1a">KMT2D</text>
<rect x="299.80" y="93.42" width="5.00" height="5.40" fill="#c4c3c9"/>
<rect x="306.48" y="93.42" width="5.00" height="5.40" fill="#c4c3c9"/>
<rect x="313.16" y="93.42" width="5.00" height="5.40" fill="#c4c3c9"/>
<rect x="319.84" y="93.42" width="5.00" height="5.40" fill="#336520"/>
<rect x="326.52" y="93.42" width="5.00" height="5.40" fill="#336520"/>
<rect x="333.20" y="93.42" width="5.00" height="5.40" fill="#c4c3c9"/>
<rect x="339.88" y="93.42" width="5.00" height="5.40" fill="#c4c3c9"/>
<rect x="346.56" y="93.42" width="5.00" height="5.40" fill="#c4c3c9"/>
<rect x="353.24" y="93.42" width="5.00" height="5.40" fill="#c4c3c9"/>
<rect x="359.92" y="93.42" width="5.00" height="5.40" fill="#c4c3c9"/>
<rect x="366.60" y="93.42" width="5.00" height="5.40" fill="#c4c3c9"/>
<rect x="373.28" y="93.42" width="5.00" height="5.40" fill="#c4c3c9"/>
<rect x="379.96" y="93.42" width="5.00" height="5.40" fill="#c4c3c9"/>
<rect x="386.64" y="93.42" width="5.00" height="5.40" fill="#c4c3c9"/>
<rect x="393.32" y="93.42" width="5.00" height="5.40" fill="#c4c3c9"/>
<rect x="400.00" y="93.42" width="5.00" height="5.40" fill="#c4c3c9"/>
<text x="292.30" y="98.07" font-size="5.6" text-anchor="end" fill="#1a1a1a">12%</text>
<text x="408.00" y="98.02" font-size="5.5" text-anchor="start" fill="#1a1a1a">JAK3</text>
<rect x="299.30" y="101.27" width="6.00" height="4.00" fill="#231b8c" rx="0.6"/>
<rect x="306.48" y="100.57" width="5.00" height="5.40" fill="#c4c3c9"/>
<rect x="313.16" y="100.57" width="5.00" height="5.40" fill="#c4c3c9"/>
<rect x="319.84" y="100.57" width="5.00" height="5.40" fill="#c4c3c9"/>
<rect x="326.52" y="100.57" width="5.00" height="5.40" fill="#c4c3c9"/>
<rect x="333.20" y="100.57" width="5.00" height="5.40" fill="#c4c3c9"/>
<rect x="339.88" y="100.57" width="5.00" height="5.40" fill="#c4c3c9"/>
<rect x="346.56" y="100.57" width="5.00" height="5.40" fill="#c4c3c9"/>
<rect x="346.06" y="101.27" width="6.00" height="4.00" fill="#eebdca" rx="0.6"/>
<rect x="353.24" y="100.57" width="5.00" height="5.40" fill="#c4c3c9"/>
<rect x="359.92" y="100.57" width="5.00" height="5.40" fill="#c4c3c9"/>
<rect x="366.60" y="100.57" width="5.00" height="5.40" fill="#c4c3c9"/>
<rect x="373.28" y="100.57" width="5.00" height="5.40" fill="#c4c3c9"/>
<rect x="379.96" y="100.57" width="5.00" height="5.40" fill="#c4c3c9"/>
<rect x="386.64" y="100.57" width="5.00" height="5.40" fill="#c4c3c9"/>
<rect x="393.32" y="100.57" width="5.00" height="5.40" fill="#c4c3c9"/>
<rect x="400.00" y="100.57" width="5.00" height="5.40" fill="#c4c3c9"/>
<text x="292.30" y="105.22" font-size="5.6" text-anchor="end" fill="#1a1a1a">12%</text>
<text x="408.00" y="105.17" font-size="5.5" text-anchor="start" fill="#1a1a1a">NOTCH1</text>
<rect x="299.80" y="107.73" width="5.00" height="5.40" fill="#c4c3c9"/>
<rect x="306.48" y="107.73" width="5.00" height="5.40" fill="#c4c3c9"/>
<rect x="313.16" y="107.73" width="5.00" height="5.40" fill="#c4c3c9"/>
<rect x="319.84" y="107.73" width="5.00" height="5.40" fill="#c4c3c9"/>
<rect x="326.52" y="107.73" width="5.00" height="5.40" fill="#c4c3c9"/>
<rect x="333.20" y="107.73" width="5.00" height="5.40" fill="#c4c3c9"/>
<rect x="339.38" y="108.43" width="6.00" height="4.00" fill="#231b8c" rx="0.6"/>
<rect x="346.56" y="107.73" width="5.00" height="5.40" fill="#c4c3c9"/>
<rect x="353.24" y="107.73" width="5.00" height="5.40" fill="#c4c3c9"/>
<rect x="359.92" y="107.73" width="5.00" height="5.40" fill="#c4c3c9"/>
<rect x="366.60" y="107.73" width="5.00" height="5.40" fill="#c4c3c9"/>
<rect x="373.28" y="107.73" width="5.00" height="5.40" fill="#c4c3c9"/>
<rect x="379.96" y="107.73" width="5.00" height="5.40" fill="#c4c3c9"/>
<rect x="386.64" y="107.73" width="5.00" height="5.40" fill="#c4c3c9"/>
<rect x="386.14" y="108.43" width="6.00" height="4.00" fill="#eebdca" rx="0.6"/>
<rect x="393.32" y="107.73" width="5.00" height="5.40" fill="#c4c3c9"/>
<rect x="400.00" y="107.73" width="5.00" height="5.40" fill="#c4c3c9"/>
<text x="292.30" y="112.38" font-size="5.6" text-anchor="end" fill="#1a1a1a">12%</text>
<text x="408.00" y="112.33" font-size="5.5" text-anchor="start" fill="#1a1a1a">TNFAIP3</text>
<rect x="299.80" y="114.88" width="5.00" height="5.40" fill="#c4c3c9"/>
<rect x="306.48" y="114.88" width="5.00" height="5.40" fill="#c4c3c9"/>
<rect x="313.16" y="114.88" width="5.00" height="5.40" fill="#336520"/>
<rect x="319.84" y="114.88" width="5.00" height="5.40" fill="#c4c3c9"/>
<rect x="326.52" y="114.88" width="5.00" height="5.40" fill="#c4c3c9"/>
<rect x="333.20" y="114.88" width="5.00" height="5.40" fill="#c4c3c9"/>
<rect x="339.88" y="114.88" width="5.00" height="5.40" fill="#c4c3c9"/>
<rect x="346.56" y="114.88" width="5.00" height="5.40" fill="#c4c3c9"/>
<rect x="353.24" y="114.88" width="5.00" height="5.40" fill="#c4c3c9"/>
<rect x="359.92" y="114.88" width="5.00" height="5.40" fill="#c4c3c9"/>
<rect x="366.60" y="114.88" width="5.00" height="5.40" fill="#c4c3c9"/>
<rect x="373.28" y="114.88" width="5.00" height="5.40" fill="#c4c3c9"/>
<rect x="379.96" y="114.88" width="5.00" height="5.40" fill="#c4c3c9"/>
<rect x="386.64" y="114.88" width="5.00" height="5.40" fill="#c4c3c9"/>
<rect x="393.32" y="114.88" width="5.00" height="5.40" fill="#c4c3c9"/>
<rect x="400.00" y="114.88" width="5.00" height="5.40" fill="#c4c3c9"/>
<text x="292.30" y="119.53" font-size="5.6" text-anchor="end" fill="#1a1a1a">6%</text>
<text x="408.00" y="119.48" font-size="5.5" text-anchor="start" fill="#1a1a1a">CIITA</text>
<rect x="299.80" y="122.04" width="5.00" height="5.40" fill="#c4c3c9"/>
<rect x="306.48" y="122.04" width="5.00" height="5.40" fill="#c4c3c9"/>
<rect x="312.66" y="122.74" width="6.00" height="4.00" fill="#231b8c" rx="0.6"/>
<rect x="319.84" y="122.04" width="5.00" height="5.40" fill="#c4c3c9"/>
<rect x="326.52" y="122.04" width="5.00" height="5.40" fill="#c4c3c9"/>
<rect x="333.20" y="122.04" width="5.00" height="5.40" fill="#c4c3c9"/>
<rect x="339.88" y="122.04" width="5.00" height="5.40" fill="#c4c3c9"/>
<rect x="346.56" y="122.04" width="5.00" height="5.40" fill="#c4c3c9"/>
<rect x="353.24" y="122.04" width="5.00" height="5.40" fill="#c4c3c9"/>
<rect x="359.92" y="122.04" width="5.00" height="5.40" fill="#c4c3c9"/>
<rect x="366.60" y="122.04" width="5.00" height="5.40" fill="#c4c3c9"/>
<rect x="373.28" y="122.04" width="5.00" height="5.40" fill="#c4c3c9"/>
<rect x="379.96" y="122.04" width="5.00" height="5.40" fill="#c4c3c9"/>
<rect x="386.64" y="122.04" width="5.00" height="5.40" fill="#c4c3c9"/>
<rect x="393.32" y="122.04" width="5.00" height="5.40" fill="#c4c3c9"/>
<rect x="400.00" y="122.04" width="5.00" height="5.40" fill="#c4c3c9"/>
<text x="292.30" y="126.69" font-size="5.6" text-anchor="end" fill="#1a1a1a">6%</text>
<text x="408.00" y="126.64" font-size="5.5" text-anchor="start" fill="#1a1a1a">NF1</text>
<rect x="299.80" y="129.19" width="5.00" height="5.40" fill="#c4c3c9"/>
<rect x="306.48" y="129.19" width="5.00" height="5.40" fill="#c4c3c9"/>
<rect x="312.66" y="129.89" width="6.00" height="4.00" fill="#231b8c" rx="0.6"/>
<rect x="319.84" y="129.19" width="5.00" height="5.40" fill="#c4c3c9"/>
<rect x="326.52" y="129.19" width="5.00" height="5.40" fill="#c4c3c9"/>
<rect x="333.20" y="129.19" width="5.00" height="5.40" fill="#c4c3c9"/>
<rect x="339.88" y="129.19" width="5.00" height="5.40" fill="#c4c3c9"/>
<rect x="346.56" y="129.19" width="5.00" height="5.40" fill="#c4c3c9"/>
<rect x="353.24" y="129.19" width="5.00" height="5.40" fill="#c4c3c9"/>
<rect x="359.92" y="129.19" width="5.00" height="5.40" fill="#c4c3c9"/>
<rect x="366.60" y="129.19" width="5.00" height="5.40" fill="#c4c3c9"/>
<rect x="373.28" y="129.19" width="5.00" height="5.40" fill="#c4c3c9"/>
<rect x="379.96" y="129.19" width="5.00" height="5.40" fill="#c4c3c9"/>
<rect x="386.64" y="129.19" width="5.00" height="5.40" fill="#c4c3c9"/>
<rect x="393.32" y="129.19" width="5.00" height="5.40" fill="#c4c3c9"/>
<rect x="400.00" y="129.19" width="5.00" height="5.40" fill="#c4c3c9"/>
<text x="292.30" y="133.84" font-size="5.6" text-anchor="end" fill="#1a1a1a">6%</text>
<text x="408.00" y="133.79" font-size="5.5" text-anchor="start" fill="#1a1a1a">STAT5B</text>
<rect x="299.80" y="136.35" width="5.00" height="5.40" fill="#c4c3c9"/>
<rect x="306.48" y="136.35" width="5.00" height="5.40" fill="#c4c3c9"/>
<rect x="313.16" y="136.35" width="5.00" height="5.40" fill="#c4c3c9"/>
<rect x="319.84" y="136.35" width="5.00" height="5.40" fill="#c4c3c9"/>
<rect x="326.52" y="136.35" width="5.00" height="5.40" fill="#c4c3c9"/>
<rect x="333.20" y="136.35" width="5.00" height="5.40" fill="#336520"/>
<rect x="339.88" y="136.35" width="5.00" height="5.40" fill="#c4c3c9"/>
<rect x="346.56" y="136.35" width="5.00" height="5.40" fill="#c4c3c9"/>
<rect x="353.24" y="136.35" width="5.00" height="5.40" fill="#c4c3c9"/>
<rect x="359.92" y="136.35" width="5.00" height="5.40" fill="#c4c3c9"/>
<rect x="366.60" y="136.35" width="5.00" height="5.40" fill="#c4c3c9"/>
<rect x="373.28" y="136.35" width="5.00" height="5.40" fill="#c4c3c9"/>
<rect x="379.96" y="136.35" width="5.00" height="5.40" fill="#c4c3c9"/>
<rect x="386.64" y="136.35" width="5.00" height="5.40" fill="#c4c3c9"/>
<rect x="393.32" y="136.35" width="5.00" height="5.40" fill="#c4c3c9"/>
<rect x="400.00" y="136.35" width="5.00" height="5.40" fill="#c4c3c9"/>
<text x="292.30" y="141.00" font-size="5.6" text-anchor="end" fill="#1a1a1a">6%</text>
<text x="408.00" y="140.95" font-size="5.5" text-anchor="start" fill="#1a1a1a">NRAS</text>
<rect x="299.80" y="143.50" width="5.00" height="5.40" fill="#c4c3c9"/>
<rect x="306.48" y="143.50" width="5.00" height="5.40" fill="#c4c3c9"/>
<rect x="313.16" y="143.50" width="5.00" height="5.40" fill="#c4c3c9"/>
<rect x="319.84" y="143.50" width="5.00" height="5.40" fill="#c4c3c9"/>
<rect x="326.52" y="143.50" width="5.00" height="5.40" fill="#c4c3c9"/>
<rect x="333.20" y="143.50" width="5.00" height="5.40" fill="#c4c3c9"/>
<rect x="339.88" y="143.50" width="5.00" height="5.40" fill="#c4c3c9"/>
<rect x="346.56" y="143.50" width="5.00" height="5.40" fill="#336520"/>
<rect x="353.24" y="143.50" width="5.00" height="5.40" fill="#c4c3c9"/>
<rect x="359.92" y="143.50" width="5.00" height="5.40" fill="#c4c3c9"/>
<rect x="366.60" y="143.50" width="5.00" height="5.40" fill="#c4c3c9"/>
<rect x="373.28" y="143.50" width="5.00" height="5.40" fill="#c4c3c9"/>
<rect x="379.96" y="143.50" width="5.00" height="5.40" fill="#c4c3c9"/>
<rect x="386.64" y="143.50" width="5.00" height="5.40" fill="#c4c3c9"/>
<rect x="393.32" y="143.50" width="5.00" height="5.40" fill="#c4c3c9"/>
<rect x="400.00" y="143.50" width="5.00" height="5.40" fill="#c4c3c9"/>
<text x="292.30" y="148.16" font-size="5.6" text-anchor="end" fill="#1a1a1a">6%</text>
<text x="408.00" y="148.10" font-size="5.5" text-anchor="start" fill="#1a1a1a">MAP2K1</text>
<rect x="299.80" y="150.66" width="5.00" height="5.40" fill="#c4c3c9"/>
<rect x="306.48" y="150.66" width="5.00" height="5.40" fill="#c4c3c9"/>
<rect x="313.16" y="150.66" width="5.00" height="5.40" fill="#c4c3c9"/>
<rect x="319.84" y="150.66" width="5.00" height="5.40" fill="#c4c3c9"/>
<rect x="326.52" y="150.66" width="5.00" height="5.40" fill="#c4c3c9"/>
<rect x="333.20" y="150.66" width="5.00" height="5.40" fill="#c4c3c9"/>
<rect x="339.88" y="150.66" width="5.00" height="5.40" fill="#c4c3c9"/>
<rect x="346.56" y="150.66" width="5.00" height="5.40" fill="#c4c3c9"/>
<rect x="353.24" y="150.66" width="5.00" height="5.40" fill="#336520"/>
<rect x="359.92" y="150.66" width="5.00" height="5.40" fill="#c4c3c9"/>
<rect x="366.60" y="150.66" width="5.00" height="5.40" fill="#c4c3c9"/>
<rect x="373.28" y="150.66" width="5.00" height="5.40" fill="#c4c3c9"/>
<rect x="379.96" y="150.66" width="5.00" height="5.40" fill="#c4c3c9"/>
<rect x="386.64" y="150.66" width="5.00" height="5.40" fill="#c4c3c9"/>
<rect x="393.32" y="150.66" width="5.00" height="5.40" fill="#c4c3c9"/>
<rect x="400.00" y="150.66" width="5.00" height="5.40" fill="#c4c3c9"/>
<text x="292.30" y="155.31" font-size="5.6" text-anchor="end" fill="#1a1a1a">6%</text>
<text x="408.00" y="155.26" font-size="5.5" text-anchor="start" fill="#1a1a1a">DNMT3A</text>
<rect x="299.80" y="157.81" width="5.00" height="5.40" fill="#c4c3c9"/>
<rect x="306.48" y="157.81" width="5.00" height="5.40" fill="#c4c3c9"/>
<rect x="313.16" y="157.81" width="5.00" height="5.40" fill="#c4c3c9"/>
<rect x="319.84" y="157.81" width="5.00" height="5.40" fill="#c4c3c9"/>
<rect x="326.52" y="157.81" width="5.00" height="5.40" fill="#c4c3c9"/>
<rect x="333.20" y="157.81" width="5.00" height="5.40" fill="#c4c3c9"/>
<rect x="339.88" y="157.81" width="5.00" height="5.40" fill="#c4c3c9"/>
<rect x="346.56" y="157.81" width="5.00" height="5.40" fill="#c4c3c9"/>
<rect x="353.24" y="157.81" width="5.00" height="5.40" fill="#336520"/>
<rect x="359.92" y="157.81" width="5.00" height="5.40" fill="#c4c3c9"/>
<rect x="366.60" y="157.81" width="5.00" height="5.40" fill="#c4c3c9"/>
<rect x="373.28" y="157.81" width="5.00" height="5.40" fill="#c4c3c9"/>
<rect x="379.96" y="157.81" width="5.00" height="5.40" fill="#c4c3c9"/>
<rect x="386.64" y="157.81" width="5.00" height="5.40" fill="#c4c3c9"/>
<rect x="393.32" y="157.81" width="5.00" height="5.40" fill="#c4c3c9"/>
<rect x="400.00" y="157.81" width="5.00" height="5.40" fill="#c4c3c9"/>
<text x="292.30" y="162.47" font-size="5.6" text-anchor="end" fill="#1a1a1a">6%</text>
<text x="408.00" y="162.41" font-size="5.5" text-anchor="start" fill="#1a1a1a">TET2</text>
<rect x="299.80" y="164.97" width="5.00" height="5.40" fill="#c4c3c9"/>
<rect x="306.48" y="164.97" width="5.00" height="5.40" fill="#c4c3c9"/>
<rect x="313.16" y="164.97" width="5.00" height="5.40" fill="#c4c3c9"/>
<rect x="319.84" y="164.97" width="5.00" height="5.40" fill="#c4c3c9"/>
<rect x="326.52" y="164.97" width="5.00" height="5.40" fill="#c4c3c9"/>
<rect x="333.20" y="164.97" width="5.00" height="5.40" fill="#c4c3c9"/>
<rect x="339.88" y="164.97" width="5.00" height="5.40" fill="#c4c3c9"/>
<rect x="346.56" y="164.97" width="5.00" height="5.40" fill="#c4c3c9"/>
<rect x="352.74" y="165.67" width="6.00" height="4.00" fill="#231b8c" rx="0.6"/>
<rect x="359.92" y="164.97" width="5.00" height="5.40" fill="#c4c3c9"/>
<rect x="366.60" y="164.97" width="5.00" height="5.40" fill="#c4c3c9"/>
<rect x="373.28" y="164.97" width="5.00" height="5.40" fill="#c4c3c9"/>
<rect x="379.96" y="164.97" width="5.00" height="5.40" fill="#c4c3c9"/>
<rect x="386.64" y="164.97" width="5.00" height="5.40" fill="#c4c3c9"/>
<rect x="393.32" y="164.97" width="5.00" height="5.40" fill="#c4c3c9"/>
<rect x="400.00" y="164.97" width="5.00" height="5.40" fill="#c4c3c9"/>
<text x="292.30" y="169.62" font-size="5.6" text-anchor="end" fill="#1a1a1a">6%</text>
<text x="408.00" y="169.57" font-size="5.5" text-anchor="start" fill="#1a1a1a">KMT2C</text>
<rect x="299.80" y="172.12" width="5.00" height="5.40" fill="#c4c3c9"/>
<rect x="306.48" y="172.12" width="5.00" height="5.40" fill="#c4c3c9"/>
<rect x="313.16" y="172.12" width="5.00" height="5.40" fill="#c4c3c9"/>
<rect x="319.84" y="172.12" width="5.00" height="5.40" fill="#c4c3c9"/>
<rect x="326.52" y="172.12" width="5.00" height="5.40" fill="#c4c3c9"/>
<rect x="333.20" y="172.12" width="5.00" height="5.40" fill="#c4c3c9"/>
<rect x="339.38" y="172.82" width="6.00" height="4.00" fill="#231b8c" rx="0.6"/>
<rect x="346.56" y="172.12" width="5.00" height="5.40" fill="#c4c3c9"/>
<rect x="353.24" y="172.12" width="5.00" height="5.40" fill="#c4c3c9"/>
<rect x="359.92" y="172.12" width="5.00" height="5.40" fill="#c4c3c9"/>
<rect x="366.60" y="172.12" width="5.00" height="5.40" fill="#c4c3c9"/>
<rect x="373.28" y="172.12" width="5.00" height="5.40" fill="#c4c3c9"/>
<rect x="379.96" y="172.12" width="5.00" height="5.40" fill="#c4c3c9"/>
<rect x="386.64" y="172.12" width="5.00" height="5.40" fill="#c4c3c9"/>
<rect x="393.32" y="172.12" width="5.00" height="5.40" fill="#c4c3c9"/>
<rect x="400.00" y="172.12" width="5.00" height="5.40" fill="#c4c3c9"/>
<text x="292.30" y="176.78" font-size="5.6" text-anchor="end" fill="#1a1a1a">6%</text>
<text x="408.00" y="176.72" font-size="5.5" text-anchor="start" fill="#1a1a1a">CD28</text>
<rect x="299.80" y="179.28" width="5.00" height="5.40" fill="#c4c3c9"/>
<rect x="306.48" y="179.28" width="5.00" height="5.40" fill="#c4c3c9"/>
<rect x="313.16" y="179.28" width="5.00" height="5.40" fill="#c4c3c9"/>
<rect x="319.84" y="179.28" width="5.00" height="5.40" fill="#c4c3c9"/>
<rect x="326.52" y="179.28" width="5.00" height="5.40" fill="#c4c3c9"/>
<rect x="333.20" y="179.28" width="5.00" height="5.40" fill="#c4c3c9"/>
<rect x="339.88" y="179.28" width="5.00" height="5.40" fill="#336520"/>
<rect x="346.56" y="179.28" width="5.00" height="5.40" fill="#c4c3c9"/>
<rect x="353.24" y="179.28" width="5.00" height="5.40" fill="#c4c3c9"/>
<rect x="359.92" y="179.28" width="5.00" height="5.40" fill="#c4c3c9"/>
<rect x="366.60" y="179.28" width="5.00" height="5.40" fill="#c4c3c9"/>
<rect x="373.28" y="179.28" width="5.00" height="5.40" fill="#c4c3c9"/>
<rect x="379.96" y="179.28" width="5.00" height="5.40" fill="#c4c3c9"/>
<rect x="386.64" y="179.28" width="5.00" height="5.40" fill="#c4c3c9"/>
<rect x="393.32" y="179.28" width="5.00" height="5.40" fill="#c4c3c9"/>
<rect x="400.00" y="179.28" width="5.00" height="5.40" fill="#c4c3c9"/>
<text x="292.30" y="183.93" font-size="5.6" text-anchor="end" fill="#1a1a1a">6%</text>
<text x="408.00" y="183.88" font-size="5.5" text-anchor="start" fill="#1a1a1a">DDX3X</text>
<rect x="299.80" y="186.44" width="5.00" height="5.40" fill="#c4c3c9"/>
<rect x="306.48" y="186.44" width="5.00" height="5.40" fill="#c4c3c9"/>
<rect x="313.16" y="186.44" width="5.00" height="5.40" fill="#c4c3c9"/>
<rect x="319.84" y="186.44" width="5.00" height="5.40" fill="#c4c3c9"/>
<rect x="326.52" y="186.44" width="5.00" height="5.40" fill="#336520"/>
<rect x="333.20" y="186.44" width="5.00" height="5.40" fill="#c4c3c9"/>
<rect x="339.88" y="186.44" width="5.00" height="5.40" fill="#c4c3c9"/>
<rect x="346.56" y="186.44" width="5.00" height="5.40" fill="#c4c3c9"/>
<rect x="353.24" y="186.44" width="5.00" height="5.40" fill="#c4c3c9"/>
<rect x="359.92" y="186.44" width="5.00" height="5.40" fill="#c4c3c9"/>
<rect x="366.60" y="186.44" width="5.00" height="5.40" fill="#c4c3c9"/>
<rect x="373.28" y="186.44" width="5.00" height="5.40" fill="#c4c3c9"/>
<rect x="379.96" y="186.44" width="5.00" height="5.40" fill="#c4c3c9"/>
<rect x="386.64" y="186.44" width="5.00" height="5.40" fill="#c4c3c9"/>
<rect x="393.32" y="186.44" width="5.00" height="5.40" fill="#c4c3c9"/>
<rect x="400.00" y="186.44" width="5.00" height="5.40" fill="#c4c3c9"/>
<text x="292.30" y="191.09" font-size="5.6" text-anchor="end" fill="#1a1a1a">6%</text>
<text x="408.00" y="191.03" font-size="5.5" text-anchor="start" fill="#1a1a1a">B2M</text>
<rect x="299.80" y="193.59" width="5.00" height="5.40" fill="#c4c3c9"/>
<rect x="306.48" y="193.59" width="5.00" height="5.40" fill="#c4c3c9"/>
<rect x="313.16" y="193.59" width="5.00" height="5.40" fill="#c4c3c9"/>
<rect x="319.84" y="193.59" width="5.00" height="5.40" fill="#c4c3c9"/>
<rect x="326.52" y="193.59" width="5.00" height="5.40" fill="#336520"/>
<rect x="333.20" y="193.59" width="5.00" height="5.40" fill="#c4c3c9"/>
<rect x="339.88" y="193.59" width="5.00" height="5.40" fill="#c4c3c9"/>
<rect x="346.56" y="193.59" width="5.00" height="5.40" fill="#c4c3c9"/>
<rect x="353.24" y="193.59" width="5.00" height="5.40" fill="#c4c3c9"/>
<rect x="359.92" y="193.59" width="5.00" height="5.40" fill="#c4c3c9"/>
<rect x="366.60" y="193.59" width="5.00" height="5.40" fill="#c4c3c9"/>
<rect x="373.28" y="193.59" width="5.00" height="5.40" fill="#c4c3c9"/>
<rect x="379.96" y="193.59" width="5.00" height="5.40" fill="#c4c3c9"/>
<rect x="386.64" y="193.59" width="5.00" height="5.40" fill="#c4c3c9"/>
<rect x="393.32" y="193.59" width="5.00" height="5.40" fill="#c4c3c9"/>
<rect x="400.00" y="193.59" width="5.00" height="5.40" fill="#c4c3c9"/>
<text x="292.30" y="198.24" font-size="5.6" text-anchor="end" fill="#1a1a1a">6%</text>
<text x="408.00" y="198.19" font-size="5.5" text-anchor="start" fill="#1a1a1a">MFHAS1</text>
<rect x="299.80" y="200.75" width="5.00" height="5.40" fill="#c4c3c9"/>
<rect x="306.48" y="200.75" width="5.00" height="5.40" fill="#c4c3c9"/>
<rect x="313.16" y="200.75" width="5.00" height="5.40" fill="#c4c3c9"/>
<rect x="319.84" y="200.75" width="5.00" height="5.40" fill="#c4c3c9"/>
<rect x="326.52" y="200.75" width="5.00" height="5.40" fill="#c4c3c9"/>
<rect x="333.20" y="200.75" width="5.00" height="5.40" fill="#c4c3c9"/>
<rect x="339.88" y="200.75" width="5.00" height="5.40" fill="#c4c3c9"/>
<rect x="346.56" y="200.75" width="5.00" height="5.40" fill="#c4c3c9"/>
<rect x="353.24" y="200.75" width="5.00" height="5.40" fill="#c4c3c9"/>
<rect x="359.92" y="200.75" width="5.00" height="5.40" fill="#c4c3c9"/>
<rect x="366.60" y="200.75" width="5.00" height="5.40" fill="#c4c3c9"/>
<rect x="366.10" y="201.44" width="6.00" height="4.00" fill="#eebdca" rx="0.6"/>
<rect x="373.28" y="200.75" width="5.00" height="5.40" fill="#c4c3c9"/>
<rect x="379.96" y="200.75" width="5.00" height="5.40" fill="#c4c3c9"/>
<rect x="386.64" y="200.75" width="5.00" height="5.40" fill="#c4c3c9"/>
<rect x="393.32" y="200.75" width="5.00" height="5.40" fill="#c4c3c9"/>
<rect x="400.00" y="200.75" width="5.00" height="5.40" fill="#c4c3c9"/>
<text x="292.30" y="205.40" font-size="5.6" text-anchor="end" fill="#1a1a1a">6%</text>
<text x="408.00" y="205.34" font-size="5.5" text-anchor="start" fill="#1a1a1a">PIM1</text>
<rect x="299.80" y="207.90" width="5.00" height="5.40" fill="#c4c3c9"/>
<rect x="306.48" y="207.90" width="5.00" height="5.40" fill="#c4c3c9"/>
<rect x="313.16" y="207.90" width="5.00" height="5.40" fill="#c4c3c9"/>
<rect x="319.84" y="207.90" width="5.00" height="5.40" fill="#c4c3c9"/>
<rect x="326.52" y="207.90" width="5.00" height="5.40" fill="#c4c3c9"/>
<rect x="333.20" y="207.90" width="5.00" height="5.40" fill="#c4c3c9"/>
<rect x="339.88" y="207.90" width="5.00" height="5.40" fill="#c4c3c9"/>
<rect x="346.56" y="207.90" width="5.00" height="5.40" fill="#c4c3c9"/>
<rect x="353.24" y="207.90" width="5.00" height="5.40" fill="#c4c3c9"/>
<rect x="359.92" y="207.90" width="5.00" height="5.40" fill="#c4c3c9"/>
<rect x="366.60" y="207.90" width="5.00" height="5.40" fill="#c4c3c9"/>
<rect x="366.10" y="208.60" width="6.00" height="4.00" fill="#eebdca" rx="0.6"/>
<rect x="373.28" y="207.90" width="5.00" height="5.40" fill="#c4c3c9"/>
<rect x="379.96" y="207.90" width="5.00" height="5.40" fill="#c4c3c9"/>
<rect x="386.64" y="207.90" width="5.00" height="5.40" fill="#c4c3c9"/>
<rect x="393.32" y="207.90" width="5.00" height="5.40" fill="#c4c3c9"/>
<rect x="400.00" y="207.90" width="5.00" height="5.40" fill="#c4c3c9"/>
<text x="292.30" y="212.55" font-size="5.6" text-anchor="end" fill="#1a1a1a">6%</text>
<text x="408.00" y="212.50" font-size="5.5" text-anchor="start" fill="#1a1a1a">CARD11</text>
<rect x="299.80" y="215.06" width="5.00" height="5.40" fill="#c4c3c9"/>
<rect x="306.48" y="215.06" width="5.00" height="5.40" fill="#c4c3c9"/>
<rect x="313.16" y="215.06" width="5.00" height="5.40" fill="#c4c3c9"/>
<rect x="319.84" y="215.06" width="5.00" height="5.40" fill="#c4c3c9"/>
<rect x="326.52" y="215.06" width="5.00" height="5.40" fill="#c4c3c9"/>
<rect x="326.02" y="215.75" width="6.00" height="4.00" fill="#eebdca" rx="0.6"/>
<rect x="333.20" y="215.06" width="5.00" height="5.40" fill="#c4c3c9"/>
<rect x="339.88" y="215.06" width="5.00" height="5.40" fill="#c4c3c9"/>
<rect x="346.56" y="215.06" width="5.00" height="5.40" fill="#c4c3c9"/>
<rect x="353.24" y="215.06" width="5.00" height="5.40" fill="#c4c3c9"/>
<rect x="359.92" y="215.06" width="5.00" height="5.40" fill="#c4c3c9"/>
<rect x="366.60" y="215.06" width="5.00" height="5.40" fill="#c4c3c9"/>
<rect x="373.28" y="215.06" width="5.00" height="5.40" fill="#c4c3c9"/>
<rect x="379.96" y="215.06" width="5.00" height="5.40" fill="#c4c3c9"/>
<rect x="386.64" y="215.06" width="5.00" height="5.40" fill="#c4c3c9"/>
<rect x="393.32" y="215.06" width="5.00" height="5.40" fill="#c4c3c9"/>
<rect x="400.00" y="215.06" width="5.00" height="5.40" fill="#c4c3c9"/>
<text x="292.30" y="219.71" font-size="5.6" text-anchor="end" fill="#1a1a1a">6%</text>
<text x="408.00" y="219.66" font-size="5.5" text-anchor="start" fill="#1a1a1a">JAK1</text>
<rect x="299.80" y="222.21" width="5.00" height="5.40" fill="#c4c3c9"/>
<rect x="306.48" y="222.21" width="5.00" height="5.40" fill="#c4c3c9"/>
<rect x="313.16" y="222.21" width="5.00" height="5.40" fill="#c4c3c9"/>
<rect x="319.84" y="222.21" width="5.00" height="5.40" fill="#c4c3c9"/>
<rect x="326.52" y="222.21" width="5.00" height="5.40" fill="#c4c3c9"/>
<rect x="326.02" y="222.91" width="6.00" height="4.00" fill="#eebdca" rx="0.6"/>
<rect x="333.20" y="222.21" width="5.00" height="5.40" fill="#c4c3c9"/>
<rect x="339.88" y="222.21" width="5.00" height="5.40" fill="#c4c3c9"/>
<rect x="346.56" y="222.21" width="5.00" height="5.40" fill="#c4c3c9"/>
<rect x="353.24" y="222.21" width="5.00" height="5.40" fill="#c4c3c9"/>
<rect x="359.92" y="222.21" width="5.00" height="5.40" fill="#c4c3c9"/>
<rect x="366.60" y="222.21" width="5.00" height="5.40" fill="#c4c3c9"/>
<rect x="373.28" y="222.21" width="5.00" height="5.40" fill="#c4c3c9"/>
<rect x="379.96" y="222.21" width="5.00" height="5.40" fill="#c4c3c9"/>
<rect x="386.64" y="222.21" width="5.00" height="5.40" fill="#c4c3c9"/>
<rect x="393.32" y="222.21" width="5.00" height="5.40" fill="#c4c3c9"/>
<rect x="400.00" y="222.21" width="5.00" height="5.40" fill="#c4c3c9"/>
<text x="292.30" y="226.86" font-size="5.6" text-anchor="end" fill="#1a1a1a">6%</text>
<text x="408.00" y="226.81" font-size="5.5" text-anchor="start" fill="#1a1a1a">FAS</text>
<rect x="438.20" y="64.80" width="23.16" height="5.40" fill="#336520"/>
<rect x="461.36" y="64.80" width="7.72" height="5.40" fill="#231b8c"/>
<rect x="438.20" y="71.95" width="7.72" height="5.40" fill="#336520"/>
<rect x="445.92" y="71.95" width="15.44" height="5.40" fill="#eebdca"/>
<rect x="461.36" y="71.95" width="7.72" height="5.40" fill="#231b8c"/>
<rect x="438.20" y="79.11" width="23.16" height="5.40" fill="#336520"/>
<rect x="438.20" y="86.27" width="15.44" height="5.40" fill="#336520"/>
<rect x="453.64" y="86.27" width="15.44" height="5.40" fill="#eebdca"/>
<rect x="438.20" y="93.42" width="15.44" height="5.40" fill="#336520"/>
<rect x="438.20" y="100.57" width="7.72" height="5.40" fill="#eebdca"/>
<rect x="445.92" y="100.57" width="7.72" height="5.40" fill="#231b8c"/>
<rect x="438.20" y="107.73" width="7.72" height="5.40" fill="#eebdca"/>
<rect x="445.92" y="107.73" width="7.72" height="5.40" fill="#231b8c"/>
<rect x="438.20" y="114.88" width="7.72" height="5.40" fill="#336520"/>
<rect x="438.20" y="122.04" width="7.72" height="5.40" fill="#231b8c"/>
<rect x="438.20" y="129.19" width="7.72" height="5.40" fill="#231b8c"/>
<rect x="438.20" y="136.35" width="7.72" height="5.40" fill="#336520"/>
<rect x="438.20" y="143.50" width="7.72" height="5.40" fill="#336520"/>
<rect x="438.20" y="150.66" width="7.72" height="5.40" fill="#336520"/>
<rect x="438.20" y="157.81" width="7.72" height="5.40" fill="#336520"/>
<rect x="438.20" y="164.97" width="7.72" height="5.40" fill="#231b8c"/>
<rect x="438.20" y="172.12" width="7.72" height="5.40" fill="#231b8c"/>
<rect x="438.20" y="179.28" width="7.72" height="5.40" fill="#336520"/>
<rect x="438.20" y="186.44" width="7.72" height="5.40" fill="#336520"/>
<rect x="438.20" y="193.59" width="7.72" height="5.40" fill="#336520"/>
<rect x="438.20" y="200.75" width="7.72" height="5.40" fill="#eebdca"/>
<rect x="438.20" y="207.90" width="7.72" height="5.40" fill="#eebdca"/>
<rect x="438.20" y="215.06" width="7.72" height="5.40" fill="#eebdca"/>
<rect x="438.20" y="222.21" width="7.72" height="5.40" fill="#eebdca"/>
<line x1="437.90" y1="63.50" x2="469.38" y2="63.50" stroke="#000" stroke-width="1.0"/>
<line x1="438.50" y1="60.80" x2="438.50" y2="63.30" stroke="#000" stroke-width="1.0"/>
<text x="438.20" y="56.00" font-size="5.4" text-anchor="middle" fill="#1a1a1a">0</text>
<line x1="445.50" y1="60.80" x2="445.50" y2="63.30" stroke="#000" stroke-width="1.0"/>
<text x="445.92" y="56.00" font-size="5.4" text-anchor="middle" fill="#1a1a1a">1</text>
<line x1="453.50" y1="60.80" x2="453.50" y2="63.30" stroke="#000" stroke-width="1.0"/>
<text x="453.64" y="56.00" font-size="5.4" text-anchor="middle" fill="#1a1a1a">2</text>
<line x1="461.50" y1="60.80" x2="461.50" y2="63.30" stroke="#000" stroke-width="1.0"/>
<text x="461.36" y="56.00" font-size="5.4" text-anchor="middle" fill="#1a1a1a">3</text>
<line x1="469.50" y1="60.80" x2="469.50" y2="63.30" stroke="#000" stroke-width="1.0"/>
<text x="469.08" y="56.00" font-size="5.4" text-anchor="middle" fill="#1a1a1a">4</text>
<text transform="translate(454.00,38.90) scale(1,1.3)" font-size="5.3" text-anchor="middle" fill="#1a1a1a" style="stroke-width:0.3px">No. of</text>
<text transform="translate(454.20,46.20) scale(1,1.3)" font-size="5.4" text-anchor="middle" fill="#1a1a1a" style="stroke-width:0.3px">mutations</text>
<text x="470.80" y="150.60" font-size="5.4" text-anchor="start" fill="#1a1a1a">Alterations</text>
<rect x="470.80" y="155.10" width="8.20" height="8.45" fill="#336520"/>
<text x="482.80" y="160.90" font-size="5.6" text-anchor="start" fill="#1a1a1a">Match</text>
<rect x="470.80" y="163.55" width="8.20" height="8.45" fill="#eebdca"/>
<text x="482.80" y="169.35" font-size="5.6" text-anchor="start" fill="#1a1a1a">PLA specific</text>
<rect x="470.80" y="172.00" width="8.20" height="8.45" fill="#231b8c"/>
<text x="482.80" y="177.80" font-size="5.6" text-anchor="start" fill="#1a1a1a">FFP specific</text>
<text x="471.30" y="194.80" font-size="5.4" text-anchor="start" fill="#1a1a1a">Stage</text>
<rect x="471.30" y="200.20" width="6.60" height="7.00" fill="#dce9f6"/>
<text x="480.90" y="205.20" font-size="5.6" text-anchor="start" fill="#1a1a1a">1</text>
<rect x="471.30" y="207.20" width="6.60" height="7.00" fill="#a8cbe2"/>
<text x="480.90" y="212.20" font-size="5.6" text-anchor="start" fill="#1a1a1a">2</text>
<rect x="471.30" y="214.20" width="6.60" height="7.00" fill="#4a7bbf"/>
<text x="480.90" y="219.20" font-size="5.6" text-anchor="start" fill="#1a1a1a">3</text>
<rect x="471.30" y="221.20" width="6.60" height="7.00" fill="#15306c"/>
<text x="480.90" y="226.20" font-size="5.6" text-anchor="start" fill="#1a1a1a">4</text>
<rect x="298.96" y="230.00" width="6.68" height="4.90" fill="#15306c"/>
<rect x="305.64" y="230.00" width="6.68" height="4.90" fill="#a8cbe2"/>
<rect x="312.32" y="230.00" width="6.68" height="4.90" fill="#dce9f6"/>
<rect x="319.00" y="230.00" width="13.36" height="4.90" fill="#15306c"/>
<rect x="332.36" y="230.00" width="6.68" height="4.90" fill="#4a7bbf"/>
<rect x="339.04" y="230.00" width="6.68" height="4.90" fill="#15306c"/>
<rect x="345.72" y="230.00" width="6.68" height="4.90" fill="#a8cbe2"/>
<rect x="352.40" y="230.00" width="6.68" height="4.90" fill="#15306c"/>
<rect x="359.08" y="230.00" width="6.68" height="4.90" fill="#4a7bbf"/>
<rect x="365.76" y="230.00" width="6.68" height="4.90" fill="#a8cbe2"/>
<rect x="372.44" y="230.00" width="6.68" height="4.90" fill="#dce9f6"/>
<rect x="379.12" y="230.00" width="20.04" height="4.90" fill="#a8cbe2"/>
<rect x="399.16" y="230.00" width="6.68" height="4.90" fill="#dce9f6"/>
<text x="295.80" y="234.00" font-size="5.2" text-anchor="end" fill="#1a1a1a">Frequency</text><rect x="0" y="0" width="520" height="1" fill="#000"/><rect x="0" y="0" width="1" height="243" fill="#000"/><rect x="519" y="0" width="1" height="243" fill="#000"/><rect x="0" y="242" width="520" height="1" fill="#000"/></svg>
</body></html>
